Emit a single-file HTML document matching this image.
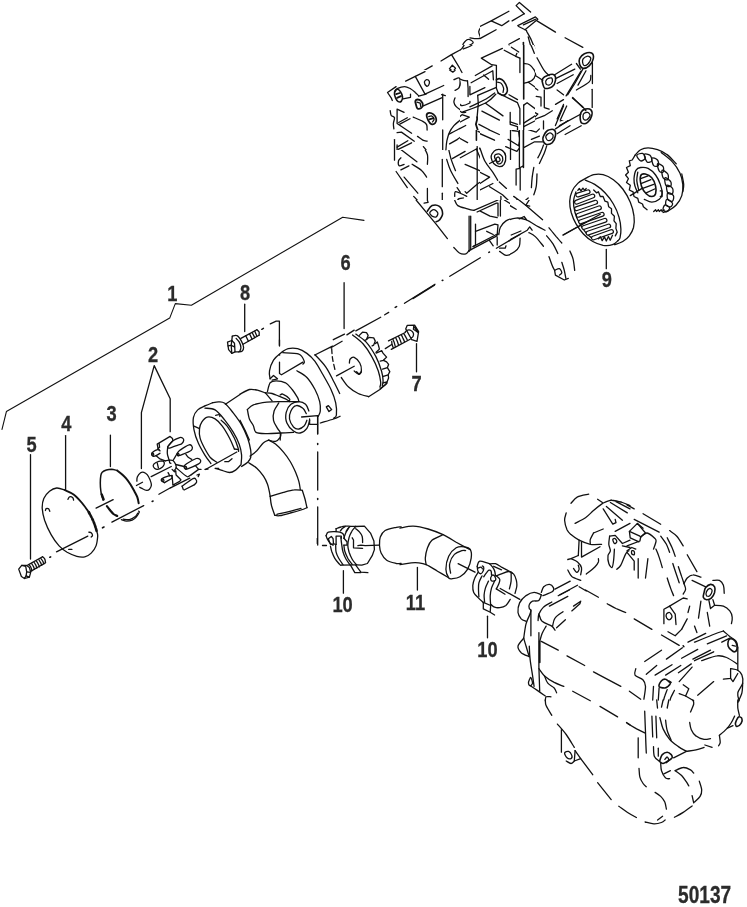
<!DOCTYPE html>
<html><head><meta charset="utf-8"><title>50137</title>
<style>
html,body{margin:0;padding:0;background:#fff;}
svg{display:block;}
text{font-family:"Liberation Sans",sans-serif;font-weight:bold;fill:#2b2b2b;stroke:#2b2b2b;stroke-width:0.3px;text-anchor:middle;}
</style></head><body>
<svg width="747" height="907" viewBox="0 0 747 907">
<rect width="747" height="907" fill="#fff"/>
<defs><clipPath id="c1"><rect x="380" y="0" width="80" height="70"/><rect x="460" y="0" width="20" height="45"/></clipPath><clipPath id="c2"><rect x="480" y="0" width="120" height="45"/><rect x="535" y="45" width="65" height="75"/></clipPath><clipPath id="c3"><rect x="380" y="150" width="100" height="50"/><rect x="460" y="130" width="20" height="20"/></clipPath><clipPath id="c4"><rect x="480" y="130" width="120" height="70"/><rect x="535" y="120" width="65" height="10"/></clipPath><clipPath id="c5"><rect x="400" y="200" width="110" height="120"/></clipPath><clipPath id="c6"><rect x="510" y="200" width="55" height="110"/><rect x="565" y="186" width="55" height="124"/></clipPath><clipPath id="c7"><rect x="380" y="70" width="80" height="80"/></clipPath><clipPath id="c8"><rect x="460" y="45" width="75" height="85"/></clipPath></defs>
<g fill="none" stroke="#111" stroke-width="1.3" stroke-linecap="round" stroke-linejoin="round">
<path d="M2.0 429.4 L6.4 411.6 L169.7 318.1 L175.3 303.6 L191.4 305.3 L342.7 217.2 L364.0 220.4" stroke-width="1.1"/>
<path d="M30.5 454.7 L30.5 559.0"/>
<path d="M65.6 435.6 L65.6 489.5"/>
<path d="M110.4 435.1 L110.4 466.6"/>
<path d="M64.7 490.0 C63.4 489.6 59.2 487.8 56.7 488.0 C54.1 488.2 51.6 489.5 49.5 491.2 C47.3 493.0 45.0 495.7 43.8 498.5 C42.6 501.3 42.1 504.5 42.2 508.1 C42.4 511.7 43.2 515.7 44.6 520.2 C46.1 524.6 48.7 530.3 51.1 534.6 C53.5 538.9 56.4 542.9 59.1 545.9 C61.8 548.8 64.2 550.5 67.1 552.3 C70.1 554.0 73.8 555.6 76.8 556.3 C79.7 557.1 82.4 557.3 84.8 556.8 C87.2 556.3 89.4 554.9 91.2 553.1 C93.1 551.3 95.0 548.7 96.0 545.9 C97.1 543.1 97.5 538.6 97.7 536.2 C97.8 533.8 97.0 532.2 96.8 531.4"/>
<path d="M64.7 490.0 C66.2 490.7 70.7 492.4 73.6 494.5 C76.4 496.5 79.0 499.5 81.6 502.5 C84.1 505.4 87.6 510.5 88.8 512.1" stroke-width="1.9"/>
<path d="M88.8 512.1 C89.6 513.7 92.3 518.6 93.6 521.8 C95.0 525.0 96.3 529.8 96.8 531.4" stroke-dasharray="2.2 1.4" stroke-width="2.6"/>
<path d="M67.9 499.3 C68.2 498.9 68.7 497.1 69.5 496.9 C70.3 496.6 72.1 497.1 72.8 497.7 C73.4 498.2 73.4 499.7 73.6 500.1"/>
<path d="M45.4 510.5 C45.6 510.2 45.7 508.9 46.2 508.6 C46.8 508.3 48.1 508.5 48.7 508.9 C49.2 509.4 49.6 510.9 49.8 511.3"/>
<path d="M88.8 532.2 C89.2 532.3 90.6 532.2 91.2 532.7 C91.8 533.2 92.5 534.7 92.5 535.4 C92.5 536.1 91.4 536.8 91.2 537.0"/>
<path d="M68.7 549.4 L71.9 549.4"/>
<path d="M103.1 500.0 C102.9 499.2 102.1 496.9 101.7 495.3 C101.3 493.7 101.0 492.6 100.8 490.6 C100.5 488.6 100.3 485.6 100.3 483.1 C100.3 480.6 100.5 477.4 100.8 475.6 C101.1 473.8 101.2 473.3 102.2 472.3 C103.1 471.4 104.8 470.5 106.4 470.0 C108.0 469.5 109.8 469.2 111.6 469.2 C113.3 469.3 116.2 470.3 117.2 470.5" stroke-width="1.5"/>
<path d="M117.2 470.5 C118.0 471.1 120.3 472.8 121.9 474.2 C123.4 475.6 125.1 477.1 126.5 478.9 C128.0 480.7 129.4 482.9 130.8 485.0 C132.1 487.1 133.4 489.5 134.5 491.5 C135.6 493.6 136.6 495.2 137.3 497.2 C138.0 499.1 138.5 502.2 138.7 503.3" stroke-width="2.0"/>
<path d="M101.7 494.4 L103.6 499.5" stroke-width="2.4"/>
<path d="M106.9 506.1 C107.4 506.8 109.1 509.0 110.1 510.3 C111.2 511.6 112.3 513.1 113.4 514.0 C114.6 515.0 116.6 515.6 117.2 515.9" stroke-width="2.2"/>
<path d="M121.4 519.7 C122.3 519.9 124.8 521.0 126.5 521.1 C128.3 521.1 130.5 520.8 132.2 520.1 C133.8 519.4 135.2 518.2 136.4 516.8 C137.6 515.5 138.8 513.1 139.2 512.2 C139.6 511.2 138.8 511.4 138.7 511.2"/>
<path d="M123.3 519.2 C124.3 519.3 127.4 520.0 129.4 519.7 C131.3 519.3 133.6 517.9 135.0 516.8 C136.4 515.8 137.3 513.7 137.8 513.1"/>
<path d="M56.5 551.8 L87.8 536.1"/>
<path d="M96.1 508.1 L113.2 499.7"/>
<path d="M111.9 522.1 L143.7 505.6"/>
<path d="M152.1 501.5 L153.1 501.0" stroke-width="1.5"/>
<path d="M18.7 569.1 L21.7 565.4 L25.7 566.4 L26.7 571.8 L26.1 575.8 L24.4 578.5 L21.4 576.5 Z"/>
<path d="M21.7 565.4 L26.7 565.4 L29.4 567.4 L30.7 572.4 L29.4 577.1 L24.7 578.5"/>
<path d="M26.7 571.8 L30.4 572.4"/>
<path d="M26.1 575.8 L29.4 577.1"/>
<path d="M27.7 565.1 L42.5 556.7"/>
<path d="M30.7 571.4 L45.5 562.7"/>
<path d="M42.5 556.7 C42.9 557.1 44.3 558.1 44.8 559.1 C45.3 560.1 45.4 562.1 45.5 562.7"/>
<path d="M29.4 565.1 C29.7 565.5 30.7 566.8 31.1 567.8 C31.5 568.7 31.6 570.3 31.8 570.8"/>
<path d="M31.8 563.7 C32.0 564.2 33.0 565.5 33.4 566.4 C33.9 567.4 34.3 568.9 34.4 569.4"/>
<path d="M34.1 562.4 C34.4 562.8 35.3 564.1 35.8 565.1 C36.2 566.0 36.6 567.6 36.8 568.1"/>
<path d="M36.4 561.1 C36.7 561.5 37.6 562.8 38.1 563.7 C38.6 564.7 39.2 566.3 39.5 566.8"/>
<path d="M38.8 559.7 C39.1 560.2 40.0 561.5 40.5 562.4 C41.0 563.4 41.6 564.9 41.8 565.4"/>
<path d="M40.8 558.4 C41.1 558.8 42.3 560.1 42.8 561.1 C43.3 562.0 43.6 563.6 43.8 564.1"/>
<path d="M49.8 557.2 L50.6 556.9" stroke-width="1.6"/>
<path d="M212.7 402.7 C211.5 403.2 208.0 404.5 205.5 405.7 C203.0 406.9 199.7 407.9 197.7 409.9 C195.6 411.9 194.0 414.4 193.4 417.7 C192.8 421.0 193.2 425.5 194.0 429.8 C194.8 434.0 196.4 438.8 198.3 443.0 C200.1 447.2 202.8 451.6 204.9 455.1 C207.0 458.5 209.9 462.1 210.9 463.5"/>
<path d="M215.1 468.3 C216.1 468.6 218.7 469.4 221.1 470.1 C223.6 470.8 227.2 472.5 229.6 472.5 C232.0 472.5 233.8 471.3 235.6 470.1 C237.4 468.9 239.6 466.1 240.4 465.3"/>
<path d="M212.7 402.7 C213.7 402.5 216.7 401.7 218.7 401.8 C220.7 401.9 222.3 401.4 224.8 403.3 C227.2 405.1 230.4 409.3 233.2 412.9 C236.0 416.5 239.2 420.7 241.6 424.9 C244.0 429.2 246.1 434.0 247.7 438.2 C249.2 442.4 250.2 447.0 250.7 450.2 C251.2 453.5 251.2 455.5 250.7 457.5 C250.2 459.5 249.2 460.8 247.7 462.3 C246.1 463.8 242.6 465.8 241.6 466.5"/>
<path d="M204.9 408.1 C206.6 408.4 211.8 407.9 215.1 409.9 C218.4 411.9 221.7 416.4 224.8 420.1 C227.8 423.8 230.8 428.2 233.2 432.2 C235.6 436.2 237.8 440.4 239.2 444.2 C240.6 448.0 241.3 451.6 241.6 455.1 C241.9 458.5 241.1 463.1 241.0 464.7"/>
<path d="M216.9 462.3 C215.8 461.5 212.4 459.9 210.3 457.5 C208.2 455.1 206.0 451.0 204.3 447.8 C202.6 444.6 200.9 441.4 200.1 438.2 C199.3 435.0 199.2 431.3 199.5 428.6 C199.8 425.8 200.6 423.8 201.9 421.9 C203.2 420.0 205.1 417.6 207.3 417.1 C209.5 416.6 212.6 417.4 215.1 418.9 C217.6 420.4 219.9 422.9 222.3 426.1 C224.8 429.4 227.6 434.4 229.6 438.2 C231.6 442.0 233.6 447.2 234.4 449.0"/>
<path d="M221.1 420.1 C222.1 421.1 225.0 423.1 227.2 426.1 C229.4 429.2 232.6 434.6 234.4 438.2 C236.2 441.8 237.3 445.6 238.0 447.8 C238.7 450.0 238.5 450.8 238.6 451.4"/>
<path d="M194.0 426.1 L199.5 428.6"/>
<path d="M205.5 469.5 L236.8 452.0"/>
<path d="M234.4 449.0 L238.6 449.6"/>
<path d="M215.7 415.3 C216.3 415.2 218.6 414.5 219.3 414.7 C220.0 414.9 219.8 416.2 219.9 416.5"/>
<path d="M224.8 461.7 L228.4 461.7 L232.0 458.7"/>
<path d="M215.7 468.3 L218.7 468.3"/>
<path d="M270.1 378.8 C270.0 377.5 268.9 373.9 269.5 370.8 C270.0 367.7 271.7 363.0 273.5 360.1 C275.3 357.2 277.7 355.3 280.2 353.4 C282.6 351.5 285.3 349.5 288.2 348.7 C291.1 347.9 294.4 347.9 297.6 348.7 C300.7 349.5 304.0 351.3 306.9 353.4 C309.8 355.5 312.3 357.8 315.0 361.4 C317.6 365.0 320.3 370.1 323.0 374.8 C325.7 379.5 328.9 384.8 331.0 389.5 C333.2 394.2 334.8 398.7 335.7 402.9 C336.6 407.2 336.7 412.4 336.4 415.0 C336.1 417.5 334.2 417.8 333.7 418.3"/>
<path d="M315.0 354.7 C316.8 356.7 322.6 362.3 325.7 366.8 C328.8 371.2 331.4 377.0 333.7 381.5 C336.1 386.0 338.7 391.5 339.7 393.5"/>
<path d="M282.8 352.7 C285.5 352.9 295.3 352.6 298.9 354.1 C302.5 355.5 303.6 359.7 304.3 361.4 C304.9 363.1 303.1 363.7 302.9 364.1"/>
<path d="M279.5 362.1 L279.5 373.5 L281.5 374.8 L302.9 362.1"/>
<path d="M279.5 340.0 L279.5 346.0"/>
<path d="M279.4 354.5 L279.6 355.0" stroke-width="1.5"/>
<path d="M296.9 370.8 C298.6 371.9 303.9 374.4 306.9 377.5 C309.9 380.6 312.8 385.5 315.0 389.5 C317.1 393.5 318.8 398.0 319.7 401.6 C320.5 405.1 320.5 408.5 320.3 411.0 C320.1 413.4 318.6 415.4 318.3 416.3"/>
<path d="M270.1 378.8 L273.5 375.5 L277.5 378.8 L272.1 380.2"/>
<path d="M267.4 391.5 C267.9 390.1 268.7 384.6 270.1 382.8 C271.6 381.1 273.6 380.8 276.1 380.8 C278.7 380.8 282.8 381.4 285.5 382.8 C288.2 384.3 290.2 387.1 292.2 389.5 C294.2 392.0 296.4 395.6 297.6 397.6 C298.7 399.6 298.7 400.9 298.9 401.6"/>
<path d="M265.4 392.9 C266.6 393.0 269.9 393.0 272.1 393.5 C274.4 394.1 276.6 395.3 278.8 396.2 C281.1 397.1 283.7 398.0 285.5 398.9 C287.3 399.8 288.9 401.1 289.5 401.6"/>
<path d="M280.2 394.9 C280.6 394.8 281.3 393.5 282.8 394.2 C284.4 394.9 288.5 397.8 289.5 398.9 C290.5 400.0 289.0 400.6 288.9 400.9"/>
<path d="M265.4 392.9 L272.1 400.9"/>
<path d="M247.4 409.6 C248.4 408.8 250.2 406.2 253.4 404.9 C256.6 403.7 262.3 402.8 266.8 402.2 C271.2 401.7 274.8 401.7 280.2 401.6 C285.5 401.5 295.8 401.6 298.9 401.6"/>
<path d="M247.4 409.6 C247.7 411.2 248.4 416.3 249.4 419.0 C250.4 421.7 252.3 423.4 253.4 425.7 C254.5 427.9 253.8 431.0 256.1 432.4 C258.3 433.7 262.8 433.6 266.8 433.7 C270.8 433.8 275.7 433.3 280.2 433.0 C284.6 432.8 291.3 432.5 293.5 432.4"/>
<path d="M278.8 402.9 C278.0 404.3 275.0 408.0 274.1 411.0 C273.2 413.9 272.9 417.4 273.5 420.3 C274.0 423.2 276.4 426.3 277.5 428.4 C278.6 430.4 279.7 430.4 280.2 432.4 C280.6 434.3 280.2 438.7 280.2 440.0"/>
<path d="M308.9 411.0 C308.4 409.8 307.3 405.8 305.6 404.3 C303.9 402.7 301.4 401.6 298.9 401.6 C296.4 401.6 293.0 402.5 290.9 404.3 C288.8 406.0 286.9 409.2 286.2 412.3 C285.5 415.4 285.6 419.9 286.9 423.0 C288.1 426.1 291.3 429.4 293.5 431.0 C295.8 432.7 298.0 433.5 300.2 433.0 C302.5 432.6 305.4 430.5 306.9 428.4 C308.5 426.2 309.2 421.7 309.6 420.3"/>
<path d="M306.3 413.6 C305.7 412.7 304.6 409.6 302.9 408.3 C301.2 406.9 298.2 405.1 296.2 405.6 C294.2 406.0 292.0 408.7 290.9 411.0 C289.8 413.2 289.1 416.3 289.5 419.0 C290.0 421.7 292.0 425.3 293.5 427.0 C295.1 428.7 297.1 429.2 298.9 429.0 C300.7 428.8 302.9 427.1 304.3 425.7 C305.6 424.2 306.5 421.2 306.9 420.3"/>
<path d="M301.6 417.0 L317.6 415.6 L317.6 433.7"/>
<path d="M309.6 419.0 L309.6 424.3 L317.6 424.3"/>
<path d="M240.0 394.2 C241.6 393.4 246.5 390.2 249.4 389.5 C252.3 388.9 254.7 389.6 257.4 390.2 C260.1 390.8 264.1 392.4 265.4 392.9"/>
<path d="M240.0 420.3 C240.9 422.1 243.8 427.8 245.4 431.0 C246.9 434.3 248.7 438.5 249.4 440.0"/>
<path d="M320.3 423.0 C322.6 422.3 330.4 420.1 333.7 419.0 C337.0 417.9 339.0 416.8 340.0 416.3"/>
<path d="M326.3 406.9 L328.4 405.6 L331.7 409.6 L329.0 411.6 Z"/>
<path d="M268.8 440.1 C269.9 440.7 273.1 442.1 275.5 444.1 C278.0 446.1 281.1 449.2 283.5 452.1 C286.0 455.0 288.2 458.2 290.2 461.5 C292.2 464.8 294.1 468.9 295.6 472.2 C297.0 475.6 298.2 478.7 298.9 481.6 C299.7 484.5 300.1 488.3 300.3 489.6"/>
<path d="M248.7 462.8 C250.1 463.7 254.3 466.0 256.8 468.2 C259.2 470.4 261.7 473.5 263.5 476.2 C265.3 478.9 266.5 481.6 267.5 484.3 C268.5 486.9 269.0 490.3 269.5 492.3 C269.9 494.3 270.0 495.6 270.2 496.3"/>
<path d="M250.1 456.1 C251.2 455.3 254.5 453.0 256.8 450.8 C259.0 448.6 261.5 444.5 263.5 442.8 C265.5 441.0 267.9 440.5 268.8 440.1"/>
<path d="M268.8 440.1 C269.9 440.3 273.6 441.9 275.5 441.4 C277.4 441.0 279.3 438.7 280.2 437.4 C281.1 436.1 280.8 434.1 280.9 433.4"/>
<path d="M270.2 496.3 C272.4 495.6 279.5 493.4 283.5 492.3 C287.6 491.2 291.1 490.2 294.3 489.9 C297.4 489.5 301.0 490.2 302.3 490.3"/>
<path d="M270.2 496.3 C270.4 497.9 270.7 502.5 271.5 505.7 C272.3 508.8 274.3 513.7 274.8 515.3"/>
<path d="M302.3 490.3 C302.7 491.7 304.2 496.1 305.0 499.0 C305.7 501.9 306.6 506.2 307.0 507.7"/>
<path d="M274.8 515.3 C275.6 515.4 277.0 516.1 279.5 515.7 C282.1 515.3 286.7 514.0 290.2 513.0 C293.8 512.1 298.2 510.9 301.0 510.0 C303.7 509.1 306.0 508.1 307.0 507.7"/>
<path d="M276.9 514.4 C278.9 513.9 284.9 512.7 288.9 511.7 C292.9 510.7 298.9 508.9 301.0 508.4"/>
<path d="M225.4 404.3 L240.0 394.5"/>
<path d="M102.5 527.8 L104.0 527.0" stroke-width="1.6"/>
<path d="M317.7 416.0 L317.7 434.0"/>
<path d="M317.7 443.5 L317.7 444.5" stroke-width="1.5"/>
<path d="M317.7 452.0 L317.7 490.0"/>
<path d="M317.7 498.5 L317.7 499.5" stroke-width="1.5"/>
<path d="M317.7 507.0 L317.7 545.0"/>
<path d="M168.1 446.1 L172.9 440.8 L172.5 438.4 L170.1 436.4 L157.2 444.1 L158.0 448.5 L159.6 447.3 L159.2 443.7"/>
<path d="M158.0 448.5 L160.0 450.9"/>
<path d="M168.1 446.1 C169.0 445.0 171.0 442.2 172.9 440.8 C174.8 439.4 178.1 438.1 179.7 437.6 C181.3 437.2 181.9 437.6 182.5 438.0 C183.2 438.5 183.9 439.5 183.7 440.4 C183.6 441.4 182.6 442.9 181.7 443.7 C180.9 444.4 180.5 444.1 178.5 444.9 C176.5 445.6 171.5 447.7 169.7 448.1 C167.9 448.5 167.9 447.6 167.7 447.3 C167.4 446.9 167.2 447.1 168.1 446.1 Z"/>
<path d="M167.7 447.3 C167.6 448.3 167.1 451.5 167.3 453.3 C167.4 455.1 168.1 456.9 168.5 458.1 C168.8 459.3 169.2 460.1 169.3 460.5"/>
<path d="M177.3 453.3 C177.7 452.4 178.2 451.5 180.1 450.1 C182.1 448.7 187.0 445.5 189.0 444.9 C190.9 444.2 191.2 445.4 191.8 446.1 C192.3 446.7 192.5 448.0 192.2 448.9 C191.8 449.7 191.8 450.2 189.8 451.3 C187.8 452.4 182.1 454.6 180.1 455.3 C178.1 456.0 178.2 456.0 177.7 455.7 C177.3 455.4 176.9 454.2 177.3 453.3 Z"/>
<ellipse cx="178.3" cy="454.5" rx="0.8" ry="1.2" transform="rotate(-25 178.3 454.5)"/>
<path d="M177.3 453.3 C176.9 454.0 175.6 456.2 174.9 457.3 C174.2 458.4 173.6 459.7 173.3 460.1"/>
<path d="M184.1 466.5 C184.3 465.7 184.5 465.1 186.6 463.7 C188.6 462.4 194.0 459.3 196.2 458.5 C198.4 457.8 199.1 458.8 199.8 459.3 C200.5 459.9 200.9 460.9 200.6 461.7 C200.3 462.5 200.3 463.0 198.2 464.1 C196.1 465.3 190.3 467.8 188.2 468.6 C186.0 469.4 186.0 469.3 185.3 469.0 C184.7 468.6 183.9 467.4 184.1 466.5 Z"/>
<ellipse cx="185.8" cy="467.8" rx="0.9" ry="1.3" transform="rotate(-25 185.8 467.8)"/>
<path d="M185.8 454.1 C186.2 454.6 187.2 456.4 188.2 457.3 C189.2 458.2 191.2 459.0 191.8 459.3"/>
<path d="M159.6 450.5 C159.3 450.3 158.7 449.5 157.6 449.7 C156.6 449.9 154.2 451.0 153.2 451.7 C152.2 452.4 151.7 453.4 151.6 454.1 C151.5 454.8 152.1 455.8 152.8 456.1 C153.6 456.4 154.8 456.2 156.0 455.7 C157.2 455.2 159.4 453.7 160.0 453.3"/>
<ellipse cx="152.8" cy="454.1" rx="0.8" ry="1.3" transform="rotate(-25 152.8 454.1)"/>
<path d="M156.0 455.7 C156.7 456.2 158.5 458.0 160.0 458.9 C161.6 459.8 164.4 460.6 165.3 460.9"/>
<path d="M153.2 465.3 C153.4 464.3 154.6 463.3 156.0 462.5 C157.4 461.8 160.3 461.0 161.7 460.9 C163.0 460.9 163.7 461.5 164.1 462.1 C164.5 462.7 164.3 463.7 164.1 464.5 C163.8 465.3 163.5 466.1 162.5 466.9 C161.4 467.8 158.9 469.1 157.6 469.4 C156.4 469.6 155.6 469.2 154.8 468.6 C154.1 467.9 153.0 466.3 153.2 465.3 Z"/>
<path d="M157.2 462.9 L158.4 467.8"/>
<path d="M165.3 460.9 C165.9 460.8 167.6 460.2 168.9 460.1 C170.2 460.1 171.8 459.8 172.9 460.5 C174.0 461.3 175.2 463.3 175.7 464.5 C176.2 465.7 176.3 466.8 176.1 467.8 C175.9 468.7 174.8 469.8 174.5 470.2"/>
<path d="M169.3 460.5 L169.7 462.9 L170.9 463.3"/>
<path d="M175.7 464.5 L184.1 466.5"/>
<path d="M176.1 467.8 C177.7 469.1 183.7 474.3 185.8 475.8 C187.8 477.3 187.2 476.8 188.2 476.6 C189.1 476.4 190.8 474.9 191.4 474.6"/>
<path d="M191.4 474.6 L198.6 469.4 L195.8 466.1"/>
<path d="M198.6 469.4 L201.0 469.4"/>
<path d="M172.1 475.4 C171.6 475.4 170.4 475.4 168.9 475.8 C167.4 476.2 164.5 477.2 163.3 477.8 C162.0 478.4 161.5 478.8 161.3 479.4 C161.1 480.0 161.5 480.9 162.1 481.4 C162.6 481.9 164.1 482.4 164.5 482.6"/>
<path d="M164.5 482.6 L172.1 478.2 L171.7 475.8"/>
<ellipse cx="162.9" cy="480.2" rx="0.9" ry="1.4" transform="rotate(-25 162.9 480.2)"/>
<path d="M168.1 472.6 L169.7 475.8"/>
<path d="M172.1 469.4 L174.5 471.8 L175.7 471.0"/>
<path d="M172.1 475.8 L172.9 484.6 L174.5 485.0"/>
<path d="M175.7 471.0 L176.1 475.0 L180.9 479.8 L179.7 481.4 L172.9 485.0"/>
<path d="M182.1 486.2 C183.9 485.0 190.7 479.7 193.0 478.6 C195.3 477.5 195.2 478.8 195.8 479.4 C196.4 480.0 196.8 481.3 196.6 482.2 C196.4 483.1 194.9 484.2 194.6 484.6"/>
<path d="M194.6 484.6 L184.1 490.0"/>
<path d="M182.1 486.2 L183.3 489.4"/>
<path d="M151.2 476.6 L171.3 466.5"/>
<path d="M170.5 487.8 L189.8 478.2"/>
<path d="M205.0 469.4 L208.0 469.0"/>
<path d="M197.0 475.0 L199.4 474.2 L198.2 476.6"/>
<path d="M158.9 494.3 L170.5 487.8"/>
<path d="M136.9 481.2 C136.9 480.5 136.7 478.4 137.3 477.0 C137.9 475.6 139.5 473.6 140.6 472.8 C141.7 472.0 142.8 472.0 143.9 472.3 C145.0 472.6 146.1 473.4 147.2 474.7 C148.2 475.9 149.3 478.1 150.0 479.8 C150.7 481.6 151.5 483.4 151.4 485.0 C151.3 486.5 150.3 488.3 149.5 489.2 C148.7 490.1 147.9 490.5 146.7 490.4 C145.5 490.3 143.6 489.3 142.5 488.7 C141.3 488.2 140.1 487.6 139.7 487.3"/>
<path d="M136.4 485.5 L142.5 482.2"/>
<path d="M141.4 468.6 L141.4 412.7 L154.2 365.6 L170.2 398.7 L170.2 431.7"/>
<path d="M244.7 304.2 L244.7 331.5"/>
<path d="M261.8 329.3 L263.4 328.4" stroke-width="1.5"/>
<path d="M270.3 323.9 L276.2 321.2 L279.4 321.2 L279.4 345.3"/>
<path d="M404.5 303.3 L435.0 284.3"/>
<path d="M344.1 282.7 L344.1 328.5"/>
<path d="M333.3 339.7 L344.5 334.1"/>
<path d="M346.9 334.9 L354.2 330.1"/>
<path d="M355.8 330.9 L380.7 317.2"/>
<path d="M384.7 314.8 L388.7 312.4"/>
<path d="M314.8 355.0 L332.5 346.1"/>
<path d="M330.9 347.8 L342.1 341.3"/>
<path d="M331.7 348.6 C331.8 350.2 332.0 354.7 332.5 358.2 C333.0 361.7 334.5 367.6 334.9 369.4" stroke-dasharray="5 3"/>
<path d="M341.3 377.5 C342.5 379.1 345.7 384.4 348.6 387.1 C351.4 389.8 354.8 391.9 358.2 393.5 C361.5 395.1 366.9 396.2 368.6 396.7"/>
<path d="M352.6 334.9 C354.3 336.4 359.8 340.1 363.0 343.7 C366.2 347.3 369.3 352.0 371.8 356.6 C374.4 361.1 376.8 366.8 378.3 371.0 C379.7 375.3 380.4 379.6 380.7 382.3 C381.0 385.0 380.0 386.3 379.9 387.1"/>
<path d="M355.8 334.1 C357.5 335.4 362.9 338.4 366.2 342.1 C369.6 345.9 373.3 351.8 375.9 356.6 C378.4 361.4 380.3 367.0 381.5 371.0 C382.7 375.1 383.0 378.3 383.1 380.7 C383.2 383.1 382.4 384.7 382.3 385.5"/>
<path d="M368.6 396.7 L379.9 389.5 L387.1 383.1"/>
<path d="M359.3 335.4 L362.5 332.2 L366.5 332.6 L368.1 335.4 L366.5 339.5 L364.9 340.3"/>
<path d="M366.5 339.5 L368.9 337.4 L373.7 337.9 L375.3 341.1 L373.7 345.1 L372.1 345.9"/>
<path d="M375.3 343.5 L377.3 341.9 L378.6 345.9 L379.4 349.1 L376.1 352.3"/>
<path d="M376.1 353.1 L381.8 350.7 L383.0 353.1 L386.6 357.1 L383.4 360.3 L380.2 361.1"/>
<path d="M383.4 360.3 L386.6 361.9 L388.6 364.4 L387.4 367.6 L382.6 369.2"/>
<path d="M387.4 367.6 L389.8 371.6 L388.2 374.8 L383.4 376.4"/>
<path d="M388.2 374.8 L388.6 378.0 L387.0 382.0 L383.0 382.8"/>
<path d="M387.0 382.0 L385.8 384.4 L380.2 388.5"/>
<path d="M349.4 363.0 C349.5 362.3 349.4 359.9 350.2 359.0 C351.0 358.1 352.6 356.7 354.2 357.4 C355.8 358.1 358.6 360.9 359.8 363.0 C361.0 365.2 361.5 368.4 361.4 370.2 C361.3 372.1 360.2 374.1 359.0 374.3 C357.8 374.4 355.0 371.6 354.2 371.0"/>
<path d="M356.6 371.8 L359.0 374.3 L361.4 371.8"/>
<path d="M336.5 375.9 L354.2 366.2"/>
<path d="M411.8 339.7 L405.7 328.9 L407.3 325.3 L414.6 325.1 L418.6 331.7 L417.0 341.3 L411.8 339.7"/>
<path d="M413.8 325.7 L413.4 329.3 L417.8 332.1"/>
<path d="M414.8 327.3 L417.6 331.7" stroke-width="1.8"/>
<path d="M405.3 331.7 C405.7 331.4 406.8 330.3 407.8 330.1 C408.7 329.9 410.0 329.9 411.0 330.5 C411.9 331.0 413.0 332.3 413.4 333.3 C413.7 334.3 413.4 335.7 413.0 336.5 C412.6 337.3 411.3 337.8 411.0 338.1"/>
<path d="M388.5 340.9 L405.3 332.5"/>
<path d="M391.3 349.4 L410.2 339.3"/>
<path d="M392.9 339.3 C393.1 339.8 393.7 340.9 394.1 342.1 C394.5 343.3 395.1 345.8 395.3 346.5"/>
<path d="M395.7 337.7 C396.0 338.3 396.8 340.1 397.3 341.3 C397.8 342.5 398.3 344.3 398.5 344.9"/>
<path d="M398.5 336.5 C398.8 337.0 399.7 338.6 400.1 339.7 C400.6 340.9 401.1 342.7 401.3 343.3"/>
<path d="M401.3 334.9 C401.6 335.4 402.4 337.0 402.9 338.1 C403.5 339.3 404.3 341.1 404.5 341.7"/>
<path d="M403.7 333.7 C404.1 334.2 405.1 335.8 405.7 336.9 C406.3 338.0 407.1 339.6 407.3 340.1"/>
<path d="M391.7 341.3 C391.8 341.9 391.8 343.5 392.1 344.5 C392.4 345.6 393.1 347.2 393.3 347.8"/>
<path d="M385.3 348.6 L391.7 344.5"/>
<path d="M416.5 343.7 L416.5 371.8"/>
<path d="M227.5 342.1 L231.8 340.5 L234.5 343.2 L235.0 351.8 L231.8 353.4 L228.6 349.6 Z"/>
<path d="M231.8 340.5 L231.2 345.3 L234.5 346.9"/>
<path d="M228.0 345.9 L231.2 345.3"/>
<path d="M231.2 345.3 L231.8 353.4"/>
<path d="M232.3 336.2 C233.1 336.1 235.6 334.9 237.1 335.7 C238.7 336.5 240.3 339.1 241.4 341.1 C242.5 343.0 243.5 345.8 243.6 347.5 C243.7 349.2 242.8 350.5 242.0 351.2 C241.2 351.9 239.3 351.7 238.7 351.8"/>
<path d="M236.1 338.4 C236.6 339.0 238.5 340.6 239.3 342.1 C240.1 343.6 240.8 346.0 240.9 347.5 C241.0 349.0 240.0 350.6 239.8 351.2"/>
<path d="M232.3 336.2 L231.8 340.5"/>
<path d="M235.0 351.8 L238.7 351.8"/>
<path d="M240.9 338.4 L256.9 329.8"/>
<path d="M243.0 344.3 L259.1 335.2"/>
<path d="M256.9 329.8 C257.3 330.2 258.7 331.1 259.1 332.0 C259.4 332.8 259.1 334.6 259.1 335.2"/>
<path d="M245.7 335.7 L248.4 341.1"/>
<path d="M249.5 333.8 L252.1 339.1"/>
<path d="M252.1 332.5 L254.8 337.6"/>
<path d="M254.8 331.2 L256.9 336.2"/>
<g clip-path="url(#c1)">
<path d="M396.1 87.6 L387.2 92.4 L392.0 100.4"/>
<path d="M404.9 81.1 L432.2 65.9"/>
<path d="M415.3 77.9 L422.6 94.0"/>
<path d="M441.0 61.0 L451.5 54.6 L461.9 49.0"/>
<path d="M451.5 54.6 L462.7 73.1"/>
<path d="M461.1 48.2 C461.3 48.3 461.5 49.8 461.9 49.0 C462.3 48.2 462.5 45.0 463.5 43.4 C464.6 41.8 466.7 39.5 468.4 39.4 C470.0 39.2 473.4 41.4 473.2 42.6 C472.9 43.8 468.8 45.6 466.7 46.6 C464.7 47.5 462.1 47.9 461.1 48.2"/>
<path d="M470.0 37.8 C471.0 37.9 474.6 38.6 476.4 38.6 C478.1 38.6 480.0 39.0 480.4 37.8 C480.8 36.5 478.3 33.5 478.8 31.3 C479.3 29.2 481.6 26.5 483.6 24.9 C485.6 23.3 488.2 23.2 490.8 21.7 C493.5 20.2 498.2 17.0 499.7 16.1"/>
<path d="M480.4 38.6 L498.1 28.9"/>
<path d="M452.3 65.1 L455.5 68.3 L453.1 71.5 L449.4 68.8 Z"/>
<path d="M426.6 80.3 C427.4 80.3 429.3 82.5 429.5 83.5 C429.7 84.6 428.7 86.7 427.9 86.7 C427.1 86.7 424.9 84.6 424.7 83.5 C424.4 82.5 425.8 80.3 426.6 80.3 Z"/>
<path d="M422.6 94.0 L442.7 85.1 L444.3 85.1"/>
<path d="M500.0 49.8 L481.2 58.6 L492.4 65.1 L495.7 65.9 L495.7 75.5"/>
<path d="M474.8 75.5 L492.4 66.7"/>
<path d="M473.2 80.3 L490.8 72.3 L494.1 70.7 L494.1 78.7"/>
<path d="M482.8 75.5 L489.2 80.3"/>
<path d="M469.2 86.7 L470.8 94.8 L492.4 85.1 L499.7 90.0"/>
<path d="M452.3 79.5 C453.1 79.4 455.8 78.0 457.1 78.7 C458.4 79.4 460.1 81.9 460.3 83.5 C460.6 85.1 459.7 87.3 458.7 88.4 C457.8 89.4 455.4 89.7 454.7 90.0"/>
<path d="M458.7 77.1 C459.5 77.6 462.1 79.7 463.5 80.3 C465.0 81.0 466.9 81.0 467.6 81.1"/>
<path d="M467.6 81.1 C467.7 82.6 468.4 87.1 468.4 90.0 C468.4 92.8 467.7 96.7 467.6 98.0"/>
<path d="M455.5 98.0 C455.4 99.1 453.9 102.5 454.7 104.4 C455.5 106.3 458.3 108.2 460.3 109.2 C462.3 110.3 464.1 111.4 466.7 110.8 C469.4 110.3 473.2 107.4 476.4 106.0 C479.6 104.7 484.4 103.3 486.0 102.8"/>
<path d="M458.7 102.8 C459.5 103.1 461.7 104.8 463.5 104.4 C465.4 104.0 467.6 101.7 470.0 100.4 C472.4 99.1 474.2 98.1 478.0 96.4 C481.7 94.6 490.0 91.0 492.4 90.0"/>
<path d="M394.5 92.4 C394.7 90.9 396.5 89.8 397.7 90.0 C398.9 90.1 400.9 91.7 401.7 93.2 C402.5 94.6 402.9 97.3 402.5 98.8 C402.1 100.3 400.3 102.0 399.3 102.0 C398.2 102.0 396.9 100.4 396.1 98.8 C395.3 97.2 394.2 93.8 394.5 92.4 Z"/>
<path d="M397.7 90.0 C398.7 89.4 402.1 86.7 404.1 86.7 C406.1 86.7 408.8 88.4 409.7 90.0 C410.7 91.6 410.9 94.8 409.7 96.4 C408.5 98.0 403.7 99.1 402.5 99.6"/>
<path d="M395.3 94.8 L400.1 96.4"/>
<path d="M416.1 100.4 C416.7 99.2 419.1 98.9 420.2 99.6 C421.2 100.3 422.4 103.1 422.6 104.4 C422.7 105.8 421.9 107.2 421.0 107.6 C420.0 108.0 417.8 108.0 416.9 106.8 C416.1 105.6 415.6 101.6 416.1 100.4 Z"/>
<path d="M423.4 106.0 L442.7 97.2"/>
<path d="M442.7 94.8 L442.7 120.0"/>
<path d="M404.1 112.4 L396.1 110.8 L396.1 120.0"/>
<path d="M389.6 110.8 L392.0 117.3"/>
<path d="M426.6 114.9 C427.4 114.7 429.9 113.4 431.4 114.1 C432.9 114.7 434.8 118.1 435.4 118.9"/>
<path d="M478.0 102.8 L478.0 120.0"/>
<path d="M486.0 102.8 L500.0 112.4"/>
<path d="M482.8 109.2 L495.7 120.0"/>
</g>
<g clip-path="url(#c2)">
<path d="M524.2 13.7 L516.1 5.6 L519.4 2.4 L530.6 12.0"/>
<path d="M524.2 13.7 L512.1 20.9"/>
<path d="M480.0 26.5 L491.2 20.9 L508.9 11.2"/>
<path d="M491.2 20.9 L501.7 25.7 L508.9 20.9"/>
<path d="M480.0 38.6 L496.1 29.7"/>
<path d="M517.8 25.7 L535.4 16.9 L537.8 19.3 L525.0 29.7"/>
<path d="M523.4 24.9 L535.4 19.3"/>
<path d="M518.6 26.5 L526.6 30.5"/>
<path d="M537.0 20.9 L555.5 32.1"/>
<path d="M565.1 37.8 L582.8 47.4"/>
<path d="M526.6 31.3 C527.4 32.8 530.1 37.3 531.4 40.2 C532.7 43.0 534.1 46.9 534.6 48.2"/>
<path d="M528.2 36.9 C528.7 38.8 530.5 45.4 531.4 48.2 C532.3 51.0 533.4 52.9 533.8 53.8"/>
<path d="M508.9 44.2 L519.4 38.6"/>
<path d="M500.9 49.0 L481.6 58.6"/>
<path d="M504.1 50.6 L514.5 56.2"/>
<path d="M510.5 46.6 L518.6 51.4"/>
<path d="M523.4 42.6 L523.4 99.6" stroke-width="1.6"/>
<path d="M519.4 56.2 L519.4 71.5"/>
<path d="M523.4 63.5 C524.4 63.7 527.9 63.6 529.8 65.1 C531.7 66.5 533.7 70.5 534.6 72.3 C535.6 74.0 536.2 73.9 535.4 75.5 C534.6 77.1 531.8 80.6 529.8 81.9 C527.8 83.3 524.4 83.3 523.4 83.5"/>
<path d="M535.4 75.5 L542.7 80.3"/>
<path d="M537.0 57.8 C538.2 60.0 542.2 67.7 544.3 70.7 C546.3 73.6 548.3 74.7 549.1 75.5"/>
<path d="M542.7 78.7 C543.5 77.4 545.6 76.2 547.5 75.5 C549.3 74.8 552.6 73.9 553.9 74.7 C555.2 75.5 555.8 78.3 555.5 80.3 C555.2 82.3 554.0 85.4 552.3 86.7 C550.5 88.1 546.7 88.9 545.1 88.4 C543.5 87.8 543.1 85.1 542.7 83.5 C542.2 81.9 541.8 80.1 542.7 78.7 Z" stroke-width="1.6"/>
<path d="M546.7 79.5 C547.6 78.6 550.5 77.5 551.5 77.9 C552.4 78.3 552.7 80.7 552.3 81.9 C551.9 83.1 550.1 84.9 549.1 85.1 C548.0 85.4 546.3 84.5 545.9 83.5 C545.5 82.6 545.7 80.5 546.7 79.5 Z"/>
<path d="M579.6 58.6 C580.4 56.9 582.4 54.8 584.4 53.8 C586.4 52.9 590.2 52.2 591.6 53.0 C593.1 53.8 593.7 56.5 593.3 58.6 C592.9 60.8 591.0 64.3 589.2 65.9 C587.5 67.5 584.4 68.5 582.8 68.3 C581.2 68.0 580.1 65.9 579.6 64.3 C579.1 62.7 578.8 60.4 579.6 58.6 Z" stroke-width="1.6"/>
<path d="M582.8 59.4 C583.5 58.0 586.3 56.4 587.6 56.2 C589.0 56.1 590.8 57.3 590.8 58.6 C590.8 60.0 588.8 63.2 587.6 64.3 C586.4 65.3 584.4 65.9 583.6 65.1 C582.8 64.3 582.1 60.9 582.8 59.4 Z"/>
<path d="M554.7 74.7 L571.6 64.3"/>
<path d="M555.5 78.7 L574.8 69.1"/>
<path d="M557.1 83.5 L573.2 74.7"/>
<path d="M576.4 63.5 L580.4 69.1"/>
<path d="M582.8 69.1 L574.8 83.5 L567.6 94.8"/>
<path d="M563.5 94.8 L557.1 90.0"/>
<path d="M586.0 70.7 L578.0 85.1"/>
<path d="M563.5 99.6 L555.5 104.4"/>
<path d="M572.4 98.0 L582.8 106.8 L586.0 110.8"/>
<path d="M576.4 90.0 C578.5 88.6 586.8 84.3 589.2 81.9 C591.6 79.5 590.6 76.6 590.8 75.5"/>
<path d="M592.4 62.7 L592.4 83.5"/>
<path d="M544.3 90.0 L544.3 107.6 L549.1 109.2"/>
<path d="M536.2 96.4 L541.0 97.2 L541.0 106.0"/>
<path d="M529.8 84.3 L537.8 90.0"/>
<path d="M523.4 96.4 L528.2 99.6"/>
<path d="M563.5 104.4 L557.1 118.9"/>
<path d="M566.7 106.0 L560.3 120.0"/>
<path d="M481.6 58.6 L486.4 61.0 L496.1 65.9 L496.1 77.1"/>
<path d="M480.0 70.7 L492.9 65.9"/>
<path d="M480.0 75.5 L491.2 70.7 L492.9 75.5 L492.9 80.3"/>
<path d="M484.0 75.5 L488.0 79.5"/>
<path d="M496.9 80.3 C497.8 80.3 500.9 78.7 502.5 80.3 C504.1 81.9 506.2 87.3 506.5 90.0 C506.8 92.6 505.3 95.6 504.1 96.4 C502.9 97.2 500.1 95.0 499.3 94.8"/>
<path d="M496.1 83.5 C496.9 84.1 500.1 85.1 500.9 86.7 C501.7 88.4 500.9 92.1 500.9 93.2"/>
<path d="M480.0 94.8 L496.1 87.6"/>
<path d="M480.0 102.8 L486.4 99.6 L497.7 94.8"/>
<path d="M481.6 106.0 L502.5 117.3"/>
<path d="M504.1 94.8 L518.6 102.0"/>
<path d="M519.4 102.8 L519.4 120.0"/>
<path d="M509.7 112.4 L509.7 120.0"/>
<path d="M523.4 104.4 L528.2 102.8"/>
<path d="M528.2 109.2 L537.8 114.1 L533.0 118.9"/>
<path d="M533.0 120.0 L544.3 115.7 L552.3 110.8"/>
</g>
<g clip-path="url(#c3)">
<path d="M392.0 120.1 L393.7 129.7"/>
<path d="M394.5 139.4 L394.5 160.2"/>
<path d="M396.1 171.5 L407.3 187.6"/>
<path d="M404.1 177.1 L417.8 193.2"/>
<path d="M413.7 196.4 L427.4 210.8"/>
<path d="M404.1 112.9 L396.9 110.4 L396.9 124.1 L412.1 132.9"/>
<path d="M400.9 122.5 L410.5 118.5"/>
<path d="M414.5 117.7 C416.0 118.5 421.2 120.5 423.4 122.5 C425.5 124.5 426.7 128.5 427.4 129.7"/>
<path d="M397.7 132.1 L414.5 141.8"/>
<path d="M416.9 136.9 L426.6 141.8"/>
<path d="M410.5 140.2 L396.9 146.6 L416.9 161.8"/>
<path d="M400.9 148.2 L412.1 142.6"/>
<path d="M423.4 146.6 C424.0 147.9 426.7 151.7 427.4 154.6 C428.1 157.6 427.4 162.7 427.4 164.3"/>
<path d="M400.9 157.8 C400.5 158.4 398.7 159.7 398.5 161.0 C398.2 162.4 398.3 165.3 399.3 165.9 C400.2 166.4 403.3 164.5 404.1 164.3"/>
<path d="M400.9 169.9 L408.9 165.9"/>
<path d="M412.1 164.3 C413.7 165.3 419.4 168.5 421.8 170.7 C424.2 172.8 425.8 176.0 426.6 177.1"/>
<path d="M427.4 188.4 L427.4 201.2 L423.4 202.8"/>
<path d="M427.4 115.3 C427.9 114.3 430.1 113.3 431.4 113.7 C432.7 114.1 434.9 116.2 435.4 117.7 C436.0 119.1 435.4 121.6 434.6 122.5 C433.8 123.4 431.7 123.8 430.6 123.3 C429.5 122.8 428.7 120.6 428.2 119.3 C427.7 117.9 426.9 116.2 427.4 115.3 Z" stroke-width="1.6"/>
<path d="M429.8 116.9 L433.8 120.1"/>
<path d="M442.3 120.9 L442.3 148.2"/>
<path d="M442.3 159.4 L442.3 186.7"/>
<path d="M442.3 193.2 L442.3 220.0"/>
<path d="M470.0 115.3 C468.4 115.9 463.5 117.1 460.3 119.3 C457.1 121.4 453.0 124.9 450.7 128.1 C448.4 131.3 447.5 134.9 446.7 138.6 C445.9 142.2 446.0 147.9 445.9 149.8"/>
<path d="M446.7 159.4 C447.3 161.3 448.8 166.7 450.7 170.7 C452.6 174.7 456.7 181.4 457.9 183.5"/>
<path d="M449.1 132.1 C448.9 134.3 448.0 140.7 448.3 145.0 C448.5 149.3 449.5 153.5 450.7 157.8 C451.9 162.1 454.7 168.5 455.5 170.7"/>
<path d="M455.5 124.9 L466.7 118.5"/>
<path d="M450.7 132.9 L465.1 125.7"/>
<path d="M450.7 143.4 L458.7 137.8 L467.6 142.6"/>
<path d="M452.3 158.6 L465.1 151.4"/>
<path d="M460.3 157.8 L476.4 149.0"/>
<path d="M477.2 106.4 L477.2 119.3"/>
<path d="M476.4 120.9 L476.4 140.2" stroke-width="1.6"/>
<path d="M477.2 146.6 L477.2 199.6"/>
<path d="M465.1 164.3 L490.8 175.5 L478.0 183.5 L466.7 193.2 L465.1 191.6"/>
<path d="M476.4 149.0 L482.8 164.3 L490.8 175.5"/>
<path d="M479.6 148.2 C481.7 152.5 489.0 166.9 492.4 173.9 C495.9 180.9 498.7 187.3 500.0 190.0"/>
<path d="M479.6 124.1 L500.0 133.7"/>
<path d="M478.0 131.3 L495.7 140.2"/>
<path d="M482.8 111.2 L500.0 119.3"/>
<path d="M486.0 104.8 L500.0 112.9"/>
<path d="M457.1 187.6 L460.3 192.4"/>
<path d="M454.7 196.4 C454.8 195.6 454.3 192.0 455.5 191.6 C456.7 191.2 460.1 193.2 461.9 194.0 C463.8 194.8 465.9 196.0 466.7 196.4"/>
<path d="M458.7 207.6 C458.6 206.3 457.1 201.2 457.9 199.6 C458.7 198.0 462.6 198.3 463.5 198.0"/>
<path d="M460.3 202.8 C461.4 203.9 464.1 208.7 466.7 209.2 C469.4 209.8 472.4 207.5 476.4 206.0 C480.4 204.6 488.4 201.3 490.8 200.4"/>
<path d="M470.0 210.8 L482.8 205.2 L495.7 200.4"/>
<path d="M437.8 220.0 C438.5 219.0 441.6 216.3 441.8 214.1 C442.1 211.9 440.9 208.3 439.4 206.8 C438.0 205.4 434.9 204.6 433.0 205.2 C431.1 205.9 429.0 209.9 428.2 210.8" stroke-width="1.6"/>
<path d="M430.6 212.4 C431.0 211.1 433.4 209.2 434.6 209.2 C435.8 209.2 437.6 211.0 437.8 212.4 C438.1 213.9 437.2 217.3 436.2 218.1 C435.3 218.9 433.1 218.2 432.2 217.3 C431.3 216.3 430.2 213.8 430.6 212.4 Z"/>
<path d="M492.4 153.0 L500.0 149.0"/>
<path d="M491.6 154.6 C491.8 155.4 491.1 157.8 492.4 159.4 C493.8 161.0 498.7 163.5 500.0 164.3"/>
<path d="M495.7 156.2 L500.0 154.6"/>
<path d="M484.4 188.4 L500.0 196.4"/>
<path d="M489.2 186.7 L500.0 193.2"/>
</g>
<g clip-path="url(#c4)">
<path d="M483.2 109.6 L502.5 117.7"/>
<path d="M480.0 116.1 L499.3 124.1"/>
<path d="M480.0 125.7 L499.3 134.5"/>
<path d="M480.0 133.7 L494.5 140.2"/>
<path d="M510.5 112.9 L510.5 159.4"/>
<path d="M519.4 120.9 L519.4 167.5"/>
<path d="M523.4 120.9 L523.4 167.5" stroke-width="1.6"/>
<path d="M511.3 121.7 L517.8 122.5 L518.6 128.1 L512.1 127.3"/>
<path d="M512.1 130.5 L518.6 131.3 L519.4 136.9"/>
<path d="M508.1 139.4 L518.6 145.8 L519.4 141.8"/>
<path d="M505.7 146.6 L516.9 151.4 L519.4 148.2"/>
<path d="M525.0 124.1 L539.4 117.7"/>
<path d="M528.2 129.7 L536.2 132.1 L539.4 128.9"/>
<path d="M531.4 139.4 L539.4 136.1"/>
<path d="M524.2 147.4 L534.6 141.8 L542.7 141.8"/>
<path d="M543.5 120.9 L543.5 128.9"/>
<path d="M543.5 136.1 C544.2 134.5 545.7 131.6 547.5 130.5 C549.2 129.5 552.6 128.9 553.9 129.7 C555.2 130.5 555.8 133.2 555.5 135.3 C555.2 137.5 553.9 141.1 552.3 142.6 C550.7 144.0 547.4 144.6 545.9 144.2 C544.3 143.8 543.4 141.5 543.0 140.2 C542.6 138.8 542.7 137.8 543.5 136.1 Z" stroke-width="1.6"/>
<path d="M545.9 136.1 C546.3 134.9 548.7 133.1 549.9 132.9 C551.1 132.8 552.8 134.3 553.1 135.3 C553.4 136.4 552.4 138.6 551.5 139.4 C550.5 140.2 548.4 140.7 547.5 140.2 C546.5 139.6 545.5 137.3 545.9 136.1 Z"/>
<path d="M555.5 128.9 L579.6 112.9"/>
<path d="M557.1 133.7 L570.0 125.7"/>
<path d="M560.3 120.9 L574.8 114.5"/>
<path d="M565.1 134.5 L581.2 125.7"/>
<path d="M543.5 145.0 C543.1 146.1 542.0 149.3 541.0 151.4 C540.1 153.5 538.4 156.8 537.8 157.8"/>
<path d="M546.7 145.8 C546.3 147.0 545.5 150.1 544.3 153.0 C543.1 156.0 540.2 161.7 539.4 163.5"/>
<path d="M533.8 167.5 C533.5 169.1 532.6 173.8 532.2 177.1 C531.8 180.5 531.5 185.8 531.4 187.6"/>
<path d="M537.0 173.9 C536.9 176.0 536.8 183.3 536.2 186.7 C535.7 190.2 534.2 193.4 533.8 194.8"/>
<path d="M516.1 185.1 L516.1 169.1 L520.2 168.3 L520.2 190.0"/>
<path d="M523.4 165.9 L520.2 167.5"/>
<path d="M492.0 153.8 C492.9 152.5 494.3 150.3 496.1 149.8 C497.8 149.3 500.9 149.5 502.5 150.6 C504.1 151.7 505.4 153.9 505.7 156.2 C506.0 158.5 505.2 162.5 504.1 164.3 C503.0 166.0 501.0 166.8 499.3 166.7 C497.5 166.5 495.0 164.9 493.7 163.5 C492.3 162.0 491.5 159.4 491.2 157.8 C491.0 156.2 491.2 155.2 492.0 153.8 Z"/>
<path d="M494.5 156.2 C494.6 154.6 497.1 153.7 498.5 153.8 C499.8 153.9 502.0 155.6 502.5 157.0 C503.0 158.5 502.5 161.6 501.7 162.7 C500.9 163.7 498.9 164.5 497.7 163.5 C496.5 162.4 494.3 157.8 494.5 156.2 Z"/>
<path d="M496.1 158.6 C496.2 157.8 497.8 156.8 498.5 157.0 C499.1 157.3 500.2 159.4 500.1 160.2 C499.9 161.0 498.3 162.1 497.7 161.8 C497.0 161.6 495.9 159.4 496.1 158.6 Z"/>
<path d="M489.6 163.5 L496.1 160.2"/>
<path d="M480.0 148.2 C480.8 150.3 482.7 157.0 484.8 161.0 C487.0 165.1 490.7 169.1 492.9 172.3 C495.0 175.5 496.9 179.0 497.7 180.3"/>
<path d="M499.3 181.9 L506.5 188.4"/>
<path d="M480.0 172.3 L489.6 177.1 L480.0 183.5"/>
<path d="M480.0 190.0 L492.9 183.5"/>
<path d="M489.6 186.7 L502.5 194.8 L517.8 209.2"/>
<path d="M500.9 196.4 L500.9 215.7"/>
<path d="M480.0 207.6 L492.9 201.2 L497.7 202.8 L496.9 215.7"/>
<path d="M513.7 196.4 L522.6 202.8 L528.2 198.0"/>
<path d="M524.2 202.8 L528.2 206.0"/>
<path d="M516.9 199.6 L539.4 218.9"/>
<path d="M507.3 220.0 C508.9 219.5 513.7 217.5 516.9 217.3 C520.2 217.1 525.0 218.6 526.6 218.9"/>
</g>
<g clip-path="url(#c5)">
<path d="M412.9 298.6 L434.5 285.1"/>
<path d="M442.2 280.5 L442.9 280.2" stroke-width="1.5"/>
<path d="M449.8 276.3 L480.3 257.8"/>
<path d="M488.8 252.4 L489.5 252.0" stroke-width="1.5"/>
<path d="M496.4 248.2 L520.0 234.5"/>
<path d="M416.1 200.0 L436.1 224.1 L447.4 238.6"/>
<path d="M453.8 247.4 C454.8 248.3 457.4 251.9 459.4 253.0 C461.4 254.1 464.3 254.2 465.9 253.8 C467.5 253.4 468.5 251.1 469.1 250.6"/>
<path d="M427.3 211.2 C428.1 210.3 430.1 206.4 432.1 205.6 C434.1 204.8 437.6 205.1 439.4 206.4 C441.1 207.8 442.6 211.4 442.6 213.7 C442.6 215.9 440.4 218.7 439.4 220.1 C438.3 221.4 436.7 221.4 436.1 221.7" stroke-width="1.6"/>
<path d="M429.7 212.9 C430.0 211.8 432.4 209.6 433.7 209.6 C435.1 209.6 437.3 211.6 437.8 212.9 C438.2 214.1 437.1 216.3 436.1 216.9 C435.2 217.4 433.2 216.7 432.1 216.1 C431.1 215.4 429.5 213.9 429.7 212.9 Z"/>
<path d="M424.1 203.2 L428.1 202.4 L427.3 200.0"/>
<path d="M469.1 216.1 L469.1 251.4"/>
<path d="M470.7 216.1 L470.7 249.8"/>
<path d="M469.1 250.6 L496.4 236.1 L498.0 233.7"/>
<path d="M473.1 246.6 L496.4 234.5"/>
<path d="M475.5 224.1 L475.5 245.0 L473.1 246.6"/>
<path d="M475.5 231.3 L494.8 224.1 L498.0 224.9 L497.2 234.5"/>
<path d="M486.7 231.3 L493.2 234.5"/>
<path d="M489.2 240.2 L493.2 245.8"/>
<path d="M454.6 200.0 C455.2 200.9 455.7 204.1 457.8 205.6 C460.0 207.1 464.8 208.0 467.5 208.8 C470.1 209.6 472.8 210.2 473.9 210.4"/>
<path d="M473.9 210.4 L498.0 200.0"/>
<path d="M477.1 212.0 L496.4 203.2 L498.0 203.2 L498.0 216.1"/>
<path d="M480.3 211.2 L490.0 216.1 L497.2 217.7"/>
<path d="M500.4 200.0 L500.4 216.1"/>
<path d="M504.4 200.0 L520.0 209.6"/>
<path d="M498.8 234.5 C499.1 233.3 499.2 229.6 500.4 227.3 C501.6 225.0 503.7 222.4 506.0 220.9 C508.3 219.4 511.7 218.7 514.1 218.5 C516.4 218.2 519.0 219.1 520.0 219.3"/>
<path d="M497.2 236.9 L497.2 245.0"/>
<path d="M520.0 232.1 C518.7 232.8 514.0 234.5 512.4 236.1 C510.9 237.8 510.8 240.0 510.8 241.8 C510.8 243.5 511.6 245.5 512.4 246.6 C513.3 247.7 515.1 247.9 515.7 248.2"/>
<path d="M499.6 251.4 C500.7 252.1 503.9 255.2 506.0 255.4 C508.2 255.7 510.1 254.8 512.4 253.0 C514.8 251.3 518.7 246.3 520.0 245.0"/>
<path d="M499.6 248.2 L505.2 248.2 L506.0 245.8"/>
</g>
<g clip-path="url(#c6)">
<path d="M606.3 249.4 L606.3 268.7"/>
<path d="M563.5 235.0 L596.4 216.5"/>
<path d="M514.5 196.4 L525.7 205.3 L542.6 219.7"/>
<path d="M525.7 205.3 L530.5 198.0 L534.5 197.2 L535.3 190.0"/>
<path d="M526.5 205.3 L529.7 206.1"/>
<path d="M500.0 199.6 L516.1 209.3"/>
<path d="M500.0 227.8 C501.1 226.7 503.7 222.9 506.4 221.3 C509.1 219.7 512.9 218.4 516.1 218.1 C519.3 217.8 522.0 218.2 525.7 219.7 C529.5 221.2 535.3 225.2 538.6 226.9 C541.8 228.7 543.9 229.6 545.0 230.2"/>
<path d="M519.3 218.9 L524.1 216.5 L526.5 219.7"/>
<path d="M500.0 245.4 L527.3 230.2 L529.7 226.9 L532.1 230.2"/>
<path d="M511.2 235.0 L520.9 231.0"/>
<path d="M528.9 232.6 C530.0 233.2 532.9 234.3 535.3 236.6 C537.8 238.9 542.0 244.6 543.4 246.2"/>
<path d="M520.1 238.2 C519.9 239.5 520.2 243.9 519.3 246.2 C518.3 248.5 516.6 250.4 514.5 251.8 C512.3 253.3 508.8 254.9 506.4 255.1 C504.0 255.2 501.1 253.1 500.0 252.7"/>
<path d="M501.6 248.6 L507.2 249.4 L507.2 245.4"/>
<path d="M549.0 227.8 C550.2 229.2 554.1 234.0 556.2 236.6 C558.4 239.1 560.9 241.9 561.8 243.0"/>
<path d="M546.6 235.8 C547.7 237.1 551.1 240.9 553.0 243.8 C554.9 246.8 557.0 251.8 557.8 253.5"/>
<path d="M569.9 251.0 C570.4 252.4 572.3 255.9 573.1 259.1 C573.9 262.3 574.4 268.4 574.7 270.3"/>
<path d="M549.0 256.7 C549.5 258.1 551.3 263.2 552.2 265.5 C553.1 267.8 554.2 269.5 554.6 270.3"/>
<path d="M561.8 262.3 C562.2 263.6 563.6 267.6 564.3 270.3 C564.9 273.0 565.6 277.0 565.9 278.4"/>
<path d="M554.6 270.3 L555.4 275.1 L564.3 280.0 L568.3 278.4"/>
<path d="M554.6 270.3 C555.4 270.1 558.2 268.3 559.4 268.7 C560.6 269.1 561.8 271.7 561.8 272.7 C561.8 273.8 559.8 274.7 559.4 275.1"/>
</g>
<path d="M618.1 240.6 C617.2 241.3 615.0 243.9 612.5 244.7 C610.0 245.5 606.4 245.8 603.1 245.3 C599.8 244.7 596.1 243.4 592.8 241.5 C589.5 239.6 586.2 237.0 583.4 234.0 C580.6 231.0 578.0 227.3 575.9 223.7 C573.9 220.1 572.3 216.2 571.2 212.5 C570.2 208.7 569.6 204.8 569.7 201.2 C569.9 197.6 570.8 193.9 572.2 190.9 C573.5 187.9 575.8 185.4 577.8 183.4 C579.8 181.4 581.7 180.6 584.4 179.1 C587.0 177.6 590.6 175.4 593.7 174.6 C596.9 173.9 599.8 173.8 603.1 174.6 C606.4 175.4 610.1 177.3 613.4 179.7 C616.7 182.1 620.0 185.3 622.8 189.0 C625.6 192.8 628.4 197.6 630.3 202.2 C632.2 206.7 633.5 212.0 634.0 216.2 C634.6 220.4 634.2 224.2 633.5 227.5 C632.7 230.7 631.1 233.5 629.3 235.9 C627.6 238.2 625.3 240.0 622.8 241.5 C620.3 243.0 615.8 244.2 614.4 244.7"/>
<path d="M585.3 180.2 C586.9 180.9 591.4 182.3 594.7 184.4 C598.0 186.4 601.9 189.5 605.0 192.8 C608.1 196.1 611.1 200.0 613.4 204.0 C615.8 208.1 617.8 212.9 619.0 217.1 C620.3 221.4 620.8 225.9 620.9 229.3 C621.1 232.8 620.4 235.9 620.0 237.8 C619.5 239.6 618.4 240.1 618.1 240.6"/>
<path d="M593.7 190.0 L596.5 192.8 L598.4 191.8 L600.3 196.5 L603.1 196.5 L605.0 201.2 L607.8 202.2 L608.7 206.8 L611.5 208.7 L611.5 213.4 L614.4 216.2 L614.0 220.9 L616.2 223.7 L615.9 228.4 L617.2 232.1 L615.3 235.9"/>
<path d="M575.9 191.8 C575.5 193.4 573.7 197.8 573.5 201.2 C573.3 204.7 574.0 208.7 575.0 212.5 C576.0 216.2 577.8 220.3 579.7 223.7 C581.6 227.1 584.1 230.6 586.2 233.1 C588.4 235.6 591.7 237.8 592.8 238.7"/>
<path d="M577.8 195.0 L588.1 191.8" stroke-width="5.0" stroke="#111"/>
<path d="M577.8 195.0 L588.1 191.8" stroke-width="2.6" stroke="#fff"/>
<path d="M576.5 202.2 L592.8 196.0" stroke-width="5.0" stroke="#111"/>
<path d="M576.5 202.2 L592.8 196.0" stroke-width="2.6" stroke="#fff"/>
<path d="M576.5 208.7 L595.6 202.2" stroke-width="5.0" stroke="#111"/>
<path d="M576.5 208.7 L595.6 202.2" stroke-width="2.6" stroke="#fff"/>
<path d="M578.2 215.3 L599.4 207.8" stroke-width="5.0" stroke="#111"/>
<path d="M578.2 215.3 L599.4 207.8" stroke-width="2.6" stroke="#fff"/>
<path d="M580.6 221.8 L602.2 214.3" stroke-width="5.0" stroke="#111"/>
<path d="M580.6 221.8 L602.2 214.3" stroke-width="2.6" stroke="#fff"/>
<path d="M583.8 227.5 L605.0 220.3" stroke-width="5.0" stroke="#111"/>
<path d="M583.8 227.5 L605.0 220.3" stroke-width="2.6" stroke="#fff"/>
<path d="M588.1 233.1 L608.7 226.0" stroke-width="5.0" stroke="#111"/>
<path d="M588.1 233.1 L608.7 226.0" stroke-width="2.6" stroke="#fff"/>
<path d="M593.4 238.0 L611.5 231.6" stroke-width="5.0" stroke="#111"/>
<path d="M593.4 238.0 L611.5 231.6" stroke-width="2.6" stroke="#fff"/>
<path d="M577.8 190.3 L579.3 188.5 L581.0 190.9 L582.9 188.1 L584.7 190.3 L586.2 188.5"/>
<path d="M598.4 238.7 L600.3 236.8 L602.2 240.6 L604.4 236.8 L606.3 241.0 L608.4 236.5 L610.2 240.2 L612.5 235.3"/>
<path d="M562.8 235.0 L600.3 214.3"/>
<path d="M635.0 155.3 L632.2 160.0 L629.3 160.9 L630.3 165.6 L626.5 167.5 L628.4 172.2 L625.6 175.0 L628.4 178.7 L626.5 182.5 L630.3 185.3 L629.3 190.0 L633.1 191.8 L634.0 196.5 L637.8 198.4 L638.7 202.2 L642.5 204.0 L643.4 206.8 L647.1 209.7"/>
<path d="M635.0 155.3 C635.9 154.4 638.4 150.9 640.6 149.7 C642.8 148.4 645.3 147.8 648.1 147.8 C650.9 147.8 654.3 148.6 657.5 149.7 C660.6 150.8 663.7 152.0 666.8 154.4 C670.0 156.7 674.6 162.2 676.2 163.7"/>
<path d="M661.2 152.5 C663.1 154.1 669.3 158.4 672.4 161.9 C675.6 165.3 678.2 169.4 679.9 173.1 C681.7 176.9 682.4 180.6 682.8 184.4 C683.1 188.1 682.9 192.2 681.8 195.6 C680.7 199.0 678.4 202.5 676.2 205.0 C674.0 207.5 670.9 209.3 668.7 210.6 C666.5 211.8 664.0 212.2 663.1 212.5"/>
<path d="M681.8 174.0 C682.1 175.8 683.5 181.4 683.7 184.4 C683.9 187.3 682.9 190.6 682.8 191.8"/>
<path d="M636.8 155.3 C637.2 154.1 641.1 153.0 642.5 153.4 C643.9 153.9 645.6 156.9 645.3 158.1 C645.0 159.4 642.0 161.4 640.6 160.9 C639.2 160.5 636.5 156.6 636.8 155.3 Z"/>
<path d="M644.3 154.4 C644.8 153.3 648.7 154.2 650.0 155.3 C651.2 156.4 652.3 159.8 651.8 160.9 C651.4 162.0 648.4 163.0 647.1 161.9 C645.9 160.8 643.9 155.5 644.3 154.4 Z"/>
<path d="M651.8 158.1 C652.5 157.2 656.4 158.7 657.5 160.0 C658.5 161.2 659.0 164.7 658.4 165.6 C657.8 166.5 654.8 166.9 653.7 165.6 C652.6 164.4 651.2 159.0 651.8 158.1 Z"/>
<path d="M657.5 163.7 C658.1 163.0 662.1 165.1 663.1 166.5 C664.0 168.0 663.7 171.4 663.1 172.2 C662.5 172.9 660.3 172.6 659.3 171.2 C658.4 169.8 656.8 164.5 657.5 163.7 Z"/>
<path d="M662.1 170.3 C662.9 169.7 666.8 172.5 667.8 174.0 C668.7 175.6 668.5 179.0 667.8 179.7 C667.0 180.3 664.0 179.4 663.1 177.8 C662.1 176.2 661.4 170.9 662.1 170.3 Z"/>
<path d="M665.0 177.8 C665.7 177.2 669.6 180.1 670.6 181.5 C671.5 182.9 671.4 185.6 670.6 186.2 C669.8 186.8 666.8 186.7 665.9 185.3 C665.0 183.9 664.2 178.4 665.0 177.8 Z"/>
<path d="M666.8 185.3 C667.6 184.5 671.5 186.7 672.4 188.1 C673.4 189.5 673.2 192.9 672.4 193.7 C671.7 194.5 668.7 194.2 667.8 192.8 C666.8 191.4 666.0 186.1 666.8 185.3 Z"/>
<path d="M667.8 192.8 C668.7 192.2 672.6 194.2 673.4 195.6 C674.2 197.0 673.4 200.6 672.4 201.2 C671.5 201.8 668.5 200.7 667.8 199.3 C667.0 197.9 666.8 193.4 667.8 192.8 Z"/>
<path d="M666.8 199.3 C667.9 199.0 671.8 201.8 672.4 203.1 C673.1 204.3 671.7 206.5 670.6 206.8 C669.5 207.2 666.5 206.2 665.9 205.0 C665.3 203.7 665.7 199.7 666.8 199.3 Z"/>
<path d="M665.0 205.0 C666.0 204.7 669.3 206.7 669.6 207.8 C670.0 208.9 667.9 211.2 666.8 211.5 C665.7 211.8 663.4 210.7 663.1 209.7 C662.8 208.6 663.9 205.3 665.0 205.0 Z"/>
<path d="M637.8 192.8 C637.3 191.7 635.6 188.6 635.0 186.2 C634.3 183.9 633.9 181.4 634.0 178.7 C634.2 176.1 634.8 172.2 635.9 170.3 C637.0 168.4 638.6 167.8 640.6 167.5 C642.6 167.2 645.6 167.2 648.1 168.4 C650.6 169.7 653.6 172.3 655.6 175.0 C657.6 177.6 659.2 181.2 660.3 184.4 C661.4 187.5 662.3 191.2 662.1 193.7 C662.0 196.2 661.0 197.9 659.3 199.3 C657.6 200.7 654.3 202.2 651.8 202.2 C649.3 202.2 645.6 199.8 644.3 199.3"/>
<path d="M637.8 172.2 C637.6 173.6 636.7 177.6 636.8 180.6 C637.0 183.6 638.4 188.4 638.7 190.0"/>
<path d="M640.6 175.9 C641.2 173.9 643.4 173.7 645.3 174.0 C647.1 174.4 650.1 175.8 651.8 177.8 C653.6 179.8 655.0 183.6 655.6 186.2 C656.2 188.9 656.2 192.0 655.6 193.7 C655.0 195.4 653.4 196.5 651.8 196.5 C650.3 196.5 647.9 195.4 646.2 193.7 C644.5 192.0 642.5 189.2 641.5 186.2 C640.6 183.3 640.0 177.9 640.6 175.9 Z" stroke-width="1.6"/>
<path d="M640.6 178.7 L648.1 175.9"/>
<path d="M641.5 183.4 L650.9 179.7"/>
<path d="M643.4 188.1 L653.7 184.4"/>
<path d="M646.2 192.8 L654.6 189.0"/>
<path d="M653.7 211.5 L655.6 209.7 L656.5 211.5 L658.4 209.7 L659.3 211.5 L661.2 209.7 L662.1 211.5 L664.0 209.7"/>
<path d="M630.3 195.6 L642.5 188.1"/>
<path d="M660.3 190.9 L662.1 190.9 L662.1 196.5 L660.3 196.5"/>
<path d="M317.3 538.6 L317.3 543.4"/>
<path d="M322.5 545.5 L326.5 545.5"/>
<path d="M355.7 526.5 L364.4 526.1 L370.5 533.1 L373.9 540.9 L374.4 549.6 L372.2 555.7 L367.4 563.5 L361.8 565.2 L356.5 564.8"/>
<path d="M355.7 526.5 C355.0 527.3 352.8 529.5 351.8 531.3 C350.7 533.1 349.8 535.1 349.1 537.4 C348.5 539.7 347.8 542.8 347.8 545.2 C347.8 547.7 348.4 549.9 349.1 552.2 C349.9 554.5 351.0 557.1 352.2 559.2 C353.4 561.3 355.8 563.9 356.5 564.8"/>
<path d="M355.7 528.7 C356.3 529.3 358.5 530.9 359.6 532.2 C360.7 533.5 361.7 534.8 362.2 536.5 C362.7 538.3 362.6 541.6 362.6 542.6"/>
<path d="M352.2 537.8 L353.5 540.0 L353.5 547.8 L362.6 548.3"/>
<path d="M357.9 545.7 L360.9 545.2 L365.2 545.7 L379.2 545.2"/>
<path d="M348.7 527.8 C348.2 528.7 346.5 531.3 345.7 533.1 C344.9 534.8 344.2 537.4 343.9 538.3"/>
<path d="M343.9 545.2 C344.1 546.2 344.1 549.1 344.8 551.3 C345.5 553.5 346.6 556.1 347.8 558.3 C349.1 560.5 351.5 563.4 352.2 564.4"/>
<path d="M340.9 537.4 C341.0 538.7 341.4 542.8 341.8 545.2 C342.1 547.7 342.3 549.9 343.1 552.2 C343.8 554.5 344.9 557.1 346.1 559.2 C347.3 561.3 349.4 563.9 350.0 564.8"/>
<path d="M335.7 545.2 C335.7 546.4 335.6 550.0 336.1 552.2 C336.6 554.4 337.5 556.2 338.7 558.3 C339.9 560.4 342.3 563.7 343.1 564.8"/>
<path d="M330.4 546.1 C330.7 547.0 331.0 549.3 331.7 551.3 C332.5 553.4 333.5 556.1 334.8 558.3 C336.1 560.5 338.6 563.2 339.6 564.4 C340.6 565.5 340.7 565.1 340.9 565.2"/>
<path d="M340.9 565.2 L356.5 564.8"/>
<path d="M336.1 528.7 C336.9 528.4 339.4 527.4 340.9 527.0 C342.4 526.5 343.7 526.2 345.2 526.1 C346.8 526.0 348.3 526.2 350.0 526.3 C351.8 526.3 354.7 526.5 355.7 526.5"/>
<path d="M336.1 528.7 L336.1 531.7"/>
<path d="M340.4 530.9 C340.8 530.4 341.8 529.0 342.6 528.3 C343.4 527.5 344.8 526.8 345.2 526.5"/>
<path d="M346.1 531.3 C346.5 530.8 347.6 529.1 348.3 528.3 C348.9 527.5 349.7 526.8 350.0 526.5"/>
<path d="M326.1 535.7 C326.5 535.1 326.6 532.8 328.3 532.2 C329.9 531.5 333.8 531.6 336.1 531.7 C338.4 531.9 340.9 532.4 342.2 533.1 C343.5 533.7 343.6 534.8 343.9 535.7 C344.3 536.5 344.3 537.8 344.4 538.3"/>
<path d="M326.1 535.7 C326.3 536.2 326.7 537.8 327.4 539.1 C328.1 540.4 329.5 542.5 330.4 543.5 C331.4 544.5 332.6 544.9 333.1 545.2"/>
<path d="M328.3 538.7 L331.3 536.5 L333.1 538.7 L333.5 543.9 L330.4 544.4 Z"/>
<path d="M336.1 544.4 L336.1 536.1 L341.3 536.1 L341.3 538.3"/>
<path d="M333.5 543.9 L336.1 544.4"/>
<path d="M343.9 538.3 L347.0 541.8 L347.0 545.2 L343.9 545.2"/>
<path d="M350.5 565.2 L354.8 572.6 L360.9 572.6"/>
<path d="M355.7 565.2 L360.9 572.2 L367.9 572.6"/>
<path d="M343.4 570.7 L343.4 593.2"/>
<path d="M401.2 527.0 C400.4 527.0 399.1 526.7 396.4 527.3 C393.7 527.9 387.8 528.9 385.1 530.5 C382.5 532.1 381.3 534.5 380.3 536.9 C379.4 539.4 379.4 542.8 379.5 545.5 C379.7 548.1 379.9 550.5 381.1 553.0 C382.3 555.5 384.2 558.5 386.7 560.2 C389.3 562.0 394.0 562.9 396.4 563.5 C398.8 564.0 400.4 563.3 401.2 563.3"/>
<path d="M400.0 528.1 C402.2 527.8 408.4 526.1 413.1 526.2 C417.8 526.4 423.1 527.6 428.1 529.0 C433.1 530.5 438.4 532.5 443.1 534.7 C447.8 536.9 452.6 540.1 456.2 542.2 C459.8 544.2 462.3 545.6 464.7 546.9 C467.0 548.1 469.3 549.2 470.3 549.7"/>
<path d="M400.0 564.7 C401.9 564.3 408.1 563.1 411.2 562.8 C414.4 562.5 416.2 562.5 418.7 562.8 C421.2 563.1 423.1 563.3 426.2 564.7 C429.4 566.1 433.7 569.0 437.5 571.2 C441.2 573.4 446.9 576.7 448.7 577.8"/>
<path d="M448.7 577.8 C447.6 576.2 445.9 572.9 445.9 569.3 C445.9 565.8 447.0 559.8 448.7 556.2 C450.4 552.6 453.6 549.4 456.2 547.8 C458.9 546.2 462.3 546.5 464.7 546.9 C467.0 547.2 469.2 547.8 470.3 549.7 C471.4 551.5 471.7 554.8 471.2 558.1 C470.7 561.4 469.3 566.2 467.5 569.3 C465.6 572.5 462.5 575.3 460.0 576.8 C457.5 578.4 454.4 578.6 452.5 578.7 C450.6 578.9 449.8 579.3 448.7 577.8 Z"/>
<path d="M450.6 573.1 C450.4 571.5 449.0 566.8 449.7 563.7 C450.3 560.6 452.3 556.5 454.4 554.4 C456.4 552.2 460.0 551.2 461.8 550.6 C463.7 550.0 465.0 550.6 465.6 550.6"/>
<path d="M443.1 534.7 C441.2 535.6 434.5 538.0 431.9 540.3 C429.2 542.6 428.3 545.8 427.2 548.7 C426.1 551.7 425.5 555.4 425.3 558.1 C425.1 560.8 426.1 563.6 426.2 564.7"/>
<path d="M417.4 567.5 L417.4 590.0"/>
<path d="M458.1 563.7 L475.0 572.2"/>
<path d="M477.2 566.3 C477.6 565.4 477.8 561.5 479.8 561.1 C481.8 560.7 486.8 563.3 489.4 563.7 C492.0 564.1 493.4 563.1 495.5 563.7 C497.5 564.3 499.4 566.0 501.5 567.2 C503.7 568.3 506.7 569.6 508.5 570.7 C510.3 571.7 511.8 572.8 512.4 573.3"/>
<path d="M477.2 566.3 C477.3 567.2 477.4 570.3 478.1 571.5 C478.7 572.8 480.2 573.9 481.1 573.7 C482.0 573.6 482.8 571.8 483.3 570.7 C483.7 569.6 483.9 568.0 483.7 567.2 C483.6 566.4 482.6 566.1 482.4 565.9"/>
<path d="M478.1 568.1 C478.6 567.9 480.4 567.0 481.1 567.2 C481.8 567.3 482.2 568.6 482.4 568.9"/>
<path d="M489.4 563.7 C489.8 564.1 491.1 565.2 492.0 566.3 C492.8 567.5 494.0 569.1 494.6 570.7 C495.2 572.3 495.3 575.0 495.5 575.9"/>
<path d="M493.7 566.3 L501.5 569.8"/>
<path d="M483.7 576.8 C484.2 576.0 485.9 573.5 486.8 572.4 C487.6 571.3 488.2 570.4 488.9 570.2 C489.7 570.0 490.7 570.3 491.1 571.1 C491.5 571.9 491.5 574.4 491.5 575.0"/>
<path d="M491.1 576.8 C491.5 576.0 492.2 575.0 492.8 575.0 C493.5 575.0 494.6 575.9 495.0 576.8 C495.5 577.6 496.0 579.5 495.5 580.2 C494.9 581.0 492.8 581.2 492.0 581.1 C491.2 581.0 490.8 580.1 490.7 579.4 C490.5 578.6 490.7 577.5 491.1 576.8 Z"/>
<path d="M478.1 572.4 C477.5 573.4 475.4 576.3 474.6 578.5 C473.7 580.7 473.0 583.1 472.8 585.5 C472.7 587.8 472.8 590.4 473.7 592.4 C474.6 594.4 476.5 596.0 478.1 597.6 C479.6 599.3 482.4 601.6 483.3 602.4"/>
<path d="M482.0 575.9 C481.5 577.0 479.5 580.5 478.9 582.8 C478.3 585.2 478.5 587.5 478.5 589.8 C478.5 592.1 478.8 595.6 478.9 596.8"/>
<path d="M488.5 581.1 C488.0 582.3 486.2 585.7 485.4 588.1 C484.7 590.4 484.3 592.7 484.1 595.0 C484.0 597.3 484.5 600.8 484.6 602.0"/>
<path d="M494.6 581.1 C494.1 582.3 492.3 585.6 491.5 588.1 C490.8 590.5 490.4 593.0 490.2 595.9 C490.1 598.8 490.6 603.9 490.7 605.5"/>
<path d="M496.3 575.9 C497.1 575.6 498.6 574.9 500.7 574.1 C502.7 573.4 506.3 571.5 508.5 571.5 C510.7 571.5 512.4 572.7 513.7 574.1 C515.0 575.6 515.8 578.2 516.3 580.2 C516.8 582.3 517.0 584.1 516.8 586.3 C516.6 588.5 515.3 592.1 515.0 593.3"/>
<path d="M510.2 599.4 C509.5 600.4 507.6 604.1 505.9 605.5 C504.2 606.8 501.7 607.4 499.8 607.6 C497.9 607.9 496.0 607.7 494.6 607.2 C493.1 606.7 491.7 605.0 491.1 604.6"/>
<path d="M511.1 572.4 C511.1 573.9 511.4 578.3 511.1 581.1 C510.8 583.9 509.7 587.6 509.4 588.9"/>
<path d="M496.3 575.9 C496.9 576.5 499.4 577.9 499.8 579.4 C500.2 580.8 499.1 583.0 498.5 584.6 C497.9 586.2 496.7 588.2 496.3 588.9"/>
<path d="M496.3 588.9 L505.0 594.2"/>
<path d="M500.2 588.5 L519.8 599.4"/>
<path d="M483.3 602.4 L483.3 608.9 L489.8 612.0 L494.6 615.0"/>
<path d="M490.7 605.5 L490.2 611.6"/>
<path d="M483.3 602.4 L490.7 605.5"/>
<path d="M487.5 616.2 L487.5 637.8"/>
<path d="M571.0 503.3 C572.1 502.2 574.5 498.4 577.5 496.9 C580.4 495.3 586.8 494.6 588.7 494.1"/>
<path d="M566.2 512.9 C566.0 514.1 564.5 517.3 564.6 520.2 C564.8 523.0 566.0 527.4 567.0 529.8 C568.1 532.2 569.0 532.9 571.0 534.6 C573.1 536.4 575.9 538.6 579.1 540.2 C582.3 541.8 586.6 543.6 590.3 544.3 C594.1 544.9 599.7 544.3 601.6 544.3"/>
<path d="M575.1 523.4 C576.8 522.4 582.4 519.9 585.5 517.8 C588.6 515.6 590.9 512.8 593.5 510.5 C596.2 508.2 599.4 505.6 601.6 504.1 C603.7 502.6 604.8 502.4 606.4 501.7 C608.0 501.0 610.4 500.3 611.2 500.1"/>
<path d="M597.6 499.3 L602.4 502.5"/>
<path d="M611.2 500.1 C613.1 500.5 619.3 501.6 622.4 502.5 C625.6 503.4 628.7 505.2 630.0 505.7"/>
<path d="M603.2 508.9 L612.8 524.2 L616.0 522.6 L615.2 519.4"/>
<path d="M606.4 506.5 L622.4 520.2"/>
<path d="M610.4 502.5 L627.3 512.9"/>
<path d="M616.0 501.7 L630.0 508.9"/>
<path d="M593.5 533.0 L603.2 529.0"/>
<path d="M593.5 533.0 C593.0 534.1 590.9 537.7 590.3 539.4 C589.8 541.2 590.3 542.8 590.3 543.5"/>
<path d="M579.1 540.2 L578.3 555.5"/>
<path d="M581.5 541.8 L581.5 557.1 L600.0 546.7"/>
<path d="M578.3 555.5 L571.0 558.7 L567.8 559.5"/>
<path d="M571.0 558.7 C572.1 559.3 575.7 560.5 577.5 561.9 C579.2 563.4 581.0 565.4 581.5 567.6 C582.0 569.7 580.8 573.6 580.7 574.8"/>
<path d="M573.5 568.4 C574.0 569.0 575.7 572.2 576.7 572.4 C577.6 572.5 578.8 570.4 579.1 569.2 C579.3 568.0 578.4 565.8 578.3 565.1"/>
<path d="M567.8 570.0 C568.5 571.0 569.7 574.6 571.8 576.4 C574.0 578.1 579.2 579.7 580.7 580.4"/>
<path d="M586.3 574.0 C587.8 572.8 593.1 568.8 595.1 566.7 C597.1 564.7 597.8 563.3 598.4 561.9 C598.9 560.6 598.4 559.3 598.4 558.7"/>
<path d="M615.2 531.4 L630.0 523.4"/>
<path d="M609.6 536.2 L615.2 535.4 L622.4 543.5 L630.0 540.2"/>
<path d="M622.4 545.9 L630.0 547.5"/>
<path d="M612.8 539.4 C612.9 538.6 614.6 538.2 615.2 538.6 C615.9 539.0 617.0 541.0 616.8 541.8 C616.7 542.7 615.1 543.9 614.4 543.5 C613.7 543.1 612.7 540.2 612.8 539.4 Z"/>
<path d="M609.6 536.2 C609.5 537.6 608.7 541.8 608.8 544.3 C608.9 546.7 610.5 548.8 610.4 550.7 C610.3 552.6 608.3 553.4 608.0 555.5 C607.7 557.6 608.1 561.5 608.8 563.5 C609.5 565.5 611.2 568.1 612.0 567.6 C612.8 567.0 613.2 563.4 613.6 560.3 C614.0 557.2 614.3 551.0 614.4 549.1"/>
<path d="M616.8 569.2 C617.5 568.5 619.4 567.7 620.8 565.1 C622.3 562.6 624.3 556.3 625.7 553.9 C627.0 551.5 628.3 551.2 628.9 550.7"/>
<path d="M541.3 592.4 C541.7 591.5 542.4 588.2 543.7 586.8 C545.1 585.5 547.8 584.3 549.4 584.4 C551.0 584.6 552.8 586.4 553.4 587.6 C553.9 588.8 554.3 590.3 552.6 591.6 C550.8 593.0 544.5 595.0 542.9 595.7"/>
<path d="M555.0 589.2 L570.2 581.2"/>
<path d="M558.2 595.7 L577.5 585.2"/>
<path d="M579.1 586.8 L586.3 591.0"/>
<path d="M627.0 504.9 L634.2 508.9"/>
<path d="M643.1 513.7 L660.7 524.2"/>
<path d="M634.2 519.4 L659.1 532.2"/>
<path d="M627.0 545.9 L639.9 541.0 L640.7 537.0 L645.5 533.0 L637.4 523.4 L629.4 531.4 L630.2 537.8 L639.0 541.8"/>
<path d="M629.4 531.4 L639.9 536.2 L640.7 537.0"/>
<path d="M637.4 523.4 L643.1 528.2"/>
<path d="M640.7 537.0 C641.7 536.4 644.7 532.7 647.1 533.0 C649.5 533.3 653.6 537.2 655.1 538.6 C656.6 540.1 656.2 540.1 655.9 541.8 C655.6 543.6 653.9 547.9 653.5 549.1"/>
<path d="M627.0 550.7 L631.8 547.5 L635.8 549.1"/>
<path d="M631.8 550.7 C632.2 550.3 633.8 550.8 634.2 551.5 C634.6 552.2 634.6 554.3 634.2 554.7 C633.8 555.1 632.2 554.6 631.8 553.9 C631.4 553.2 631.4 551.1 631.8 550.7 Z"/>
<path d="M627.0 552.3 L634.2 561.1 L634.2 570.0"/>
<path d="M638.2 558.7 L638.2 578.0"/>
<path d="M647.9 558.7 L645.5 578.0"/>
<path d="M655.9 549.1 C656.5 550.4 658.1 554.0 659.1 557.1 C660.2 560.2 661.8 565.8 662.3 567.6"/>
<path d="M660.7 536.2 C661.7 537.6 664.9 541.6 666.4 544.3 C667.8 546.9 669.0 551.0 669.6 552.3"/>
<path d="M667.2 537.8 C668.0 539.4 670.6 544.4 672.0 547.5 C673.3 550.5 674.7 554.8 675.2 556.3"/>
<path d="M669.6 530.6 C670.8 531.5 674.5 533.7 676.8 536.2 C679.1 538.8 682.2 544.3 683.2 545.9"/>
<path d="M687.2 554.7 L696.9 571.6"/>
<path d="M672.8 563.5 C673.3 565.1 674.9 570.0 676.0 573.2 C677.1 576.4 678.7 581.2 679.2 582.8"/>
<path d="M678.4 566.7 C678.9 568.4 680.7 573.6 681.6 576.4 C682.6 579.2 683.6 582.4 684.0 583.6"/>
<path d="M667.2 578.0 C667.7 579.6 669.3 584.7 670.4 587.6 C671.4 590.6 673.1 594.3 673.6 595.7"/>
<path d="M684.0 583.6 C684.6 582.7 685.8 579.5 687.2 578.0 C688.7 576.5 690.6 574.9 692.9 574.8 C695.1 574.6 699.6 576.8 700.9 577.2"/>
<path d="M684.0 583.6 C684.3 584.6 685.8 587.5 685.6 589.2 C685.5 591.0 683.6 593.3 683.2 594.1"/>
<path d="M692.1 580.4 L705.7 586.8"/>
<path d="M704.1 592.4 C704.5 590.8 704.6 589.0 705.7 587.6 C706.8 586.3 709.1 584.6 710.5 584.4 C712.0 584.3 713.9 585.5 714.6 586.8 C715.2 588.2 715.1 590.6 714.6 592.4 C714.0 594.3 712.7 596.9 711.3 598.1 C710.0 599.3 707.9 599.8 706.5 599.7 C705.2 599.5 703.7 598.5 703.3 597.3 C702.9 596.1 703.7 594.1 704.1 592.4 Z" stroke-width="1.6"/>
<path d="M706.5 591.6 C707.1 590.4 708.8 588.6 709.7 588.4 C710.7 588.3 712.1 589.6 712.1 590.8 C712.1 592.0 710.7 594.9 709.7 595.7 C708.8 596.5 707.1 596.3 706.5 595.7 C706.0 595.0 706.0 592.9 706.5 591.6 Z"/>
<path d="M712.9 580.4 C714.0 580.4 717.6 579.6 719.4 580.4 C721.1 581.2 722.6 583.1 723.4 585.2 C724.2 587.4 724.1 591.9 724.2 593.3"/>
<path d="M541.3 594.8 C540.1 594.4 536.6 592.3 534.1 592.4 C531.6 592.5 528.5 593.9 526.1 595.6 C523.7 597.4 521.0 600.0 519.6 602.9 C518.3 605.7 517.8 609.8 518.0 612.5 C518.3 615.2 519.9 617.4 521.2 618.9 C522.6 620.4 525.3 620.9 526.1 621.3"/>
<path d="M541.3 594.8 C540.9 595.8 540.4 599.4 538.9 600.4 C537.4 601.5 534.1 600.6 532.5 601.2 C530.9 601.9 529.8 603.3 529.3 604.5 C528.7 605.7 529.0 607.5 529.3 608.5 C529.5 609.4 530.7 609.1 530.9 610.1 C531.0 611.0 530.2 613.4 530.1 614.1"/>
<path d="M530.9 610.1 L530.9 635.8"/>
<path d="M530.1 614.1 C529.4 615.7 527.1 619.7 526.1 623.7 C525.0 627.8 524.1 635.8 523.7 638.2"/>
<path d="M523.7 638.2 C522.7 639.5 518.4 643.8 518.0 646.2 C517.6 648.6 519.4 650.9 521.2 652.7 C523.1 654.4 527.9 656.0 529.3 656.7"/>
<path d="M523.7 638.2 C524.1 639.5 525.1 643.1 526.1 646.2 C527.0 649.3 528.7 654.9 529.3 656.7"/>
<path d="M529.3 646.2 C529.4 648.4 529.5 654.3 530.1 659.1 C530.6 663.9 531.8 670.6 532.5 675.1 C533.2 679.7 533.8 684.5 534.1 686.4"/>
<path d="M529.3 680.0 C529.7 679.0 530.3 677.0 530.9 677.6 C531.4 678.1 532.6 681.8 532.5 683.2 C532.4 684.5 530.7 685.6 530.1 685.6 C529.4 685.6 528.6 684.1 528.5 683.2 C528.3 682.2 528.9 680.9 529.3 680.0 Z"/>
<path d="M530.1 685.6 C531.3 686.4 534.8 688.7 537.3 690.4 C539.9 692.1 544.0 695.1 545.3 696.0"/>
<path d="M538.9 632.6 L538.9 667.1 L539.7 691.2"/>
<path d="M539.7 641.4 L539.7 662.3" stroke-width="1.8"/>
<path d="M546.1 626.1 C545.5 627.3 543.2 630.8 542.1 633.4 C541.1 635.9 540.1 640.1 539.7 641.4"/>
<path d="M538.9 614.1 C539.5 615.3 540.0 619.3 542.1 621.3 C544.3 623.3 549.6 624.7 551.8 626.1 C553.9 627.6 554.4 629.5 555.0 630.2"/>
<path d="M538.1 620.5 C538.2 619.5 538.0 616.4 538.9 614.1 C539.9 611.8 541.6 608.9 543.7 606.9 C545.9 604.9 550.4 602.9 551.8 602.0"/>
<path d="M552.6 626.1 C553.0 624.8 553.2 620.5 555.0 618.1 C556.7 615.7 561.7 612.8 563.0 611.7"/>
<path d="M549.4 606.1 L567.8 596.4"/>
<path d="M559.8 594.8 L569.4 590.0"/>
<path d="M556.6 627.8 L565.4 619.7"/>
<path d="M571.8 610.9 L579.9 603.7 L580.7 601.2 L573.5 606.1"/>
<path d="M585.5 590.0 L598.4 597.2"/>
<path d="M607.2 603.7 C608.7 604.5 612.9 607.0 616.0 608.5 C619.1 609.9 624.1 611.8 625.7 612.5"/>
<path d="M541.3 641.4 L558.2 650.2"/>
<path d="M567.0 655.9 L584.7 665.5"/>
<path d="M593.5 671.9 L620.8 686.4"/>
<path d="M538.9 668.7 C539.9 669.9 542.0 673.7 544.5 675.9 C547.1 678.2 551.0 680.6 554.2 682.4 C557.4 684.1 562.2 685.7 563.8 686.4"/>
<path d="M572.7 691.2 L590.3 700.8"/>
<path d="M544.5 675.9 C545.1 677.1 546.1 681.2 547.8 683.2 C549.4 685.2 552.7 686.4 554.2 688.0 C555.6 689.6 556.2 692.0 556.6 692.8"/>
<path d="M551.0 696.8 C550.2 696.8 547.1 696.2 546.1 696.8 C545.2 697.5 545.5 700.2 545.3 700.8"/>
<path d="M708.9 600.4 L710.5 608.5 L714.6 605.3 L712.9 599.6"/>
<path d="M714.6 605.3 C716.0 605.4 720.8 605.1 723.4 606.1 C725.9 607.0 728.3 609.0 729.8 610.9 C731.3 612.8 732.0 615.2 732.2 617.3 C732.5 619.5 731.6 622.7 731.4 623.7"/>
<path d="M707.3 612.5 L709.7 626.1"/>
<path d="M700.9 601.2 L698.5 618.1"/>
<path d="M689.7 606.1 L688.0 612.5"/>
<path d="M687.2 618.9 L681.6 629.4"/>
<path d="M694.5 626.1 L696.9 632.6"/>
<path d="M663.9 623.7 L663.9 609.3 L669.6 606.1 L675.2 614.1 L676.0 624.5"/>
<path d="M669.6 606.1 L683.2 598.0 L687.2 598.8"/>
<path d="M666.4 614.1 C666.8 613.2 668.6 612.1 669.6 612.5 C670.5 612.9 672.0 615.3 672.0 616.5 C672.0 617.7 670.4 619.5 669.6 619.7 C668.7 620.0 667.4 619.0 666.8 618.1 C666.3 617.2 665.9 615.0 666.4 614.1 Z"/>
<path d="M668.0 631.8 L675.2 635.8 L681.6 629.4"/>
<path d="M634.2 618.9 L651.9 629.4"/>
<path d="M661.5 635.0 L679.2 645.4"/>
<path d="M683.2 645.7 L683.9 646.7" stroke-width="1.5"/>
<path d="M644.7 661.5 L661.5 650.2"/>
<path d="M666.4 659.1 L682.4 647.8"/>
<path d="M681.6 658.3 L697.7 649.4"/>
<path d="M688.0 642.2 L705.7 633.4"/>
<path d="M694.5 642.2 C697.4 641.0 707.3 636.9 712.1 635.0 C717.0 633.1 721.5 631.6 723.4 631.0"/>
<path d="M707.3 643.8 L726.6 635.8"/>
<path d="M721.8 642.2 L729.8 638.2"/>
<path d="M692.9 659.1 L710.5 650.2"/>
<path d="M694.5 660.7 L713.7 651.8"/>
<path d="M701.7 660.7 C704.2 659.9 712.8 656.4 717.0 655.9 C721.1 655.3 723.3 656.1 726.6 657.5 C729.9 658.8 735.3 662.8 737.0 663.9"/>
<path d="M678.4 672.7 L691.3 663.9"/>
<path d="M679.2 681.6 L692.1 667.1"/>
<path d="M655.1 675.1 L672.0 664.7"/>
<path d="M665.6 675.1 L680.8 665.5"/>
<path d="M646.3 674.3 L656.7 665.5"/>
<path d="M635.8 668.7 C635.7 669.8 633.8 673.3 635.0 675.1 C636.2 677.0 641.3 678.1 643.1 680.0 C644.8 681.8 645.3 683.2 645.5 686.4 C645.6 689.6 644.1 697.1 643.9 699.2"/>
<path d="M629.4 691.2 L640.7 699.2"/>
<path d="M659.1 686.4 C658.6 685.2 660.5 682.0 661.5 680.8 C662.6 679.6 664.3 679.0 665.6 679.2 C666.8 679.3 668.0 680.9 668.8 681.6 C669.6 682.2 670.5 682.4 670.4 683.2 C670.2 684.0 668.9 685.6 668.0 686.4 C667.0 687.2 666.2 688.0 664.8 688.0 C663.3 688.0 659.7 687.6 659.1 686.4 Z" stroke-width="1.6"/>
<path d="M668.8 680.8 L671.2 682.4"/>
<path d="M653.5 686.4 L652.7 700.0"/>
<path d="M659.1 688.0 L658.3 700.0"/>
<path d="M667.2 689.6 C666.8 690.7 665.3 694.3 664.8 696.0 C664.2 697.8 663.8 699.4 663.6 700.0"/>
<path d="M674.4 690.4 C673.9 691.5 671.9 695.2 671.2 696.8 C670.5 698.4 670.2 699.5 670.1 700.0"/>
<path d="M683.2 684.8 L688.8 688.8 L685.6 696.0 L679.2 693.6"/>
<path d="M685.6 696.0 L693.7 700.8"/>
<path d="M697.7 695.2 L713.7 681.6"/>
<path d="M723.4 631.0 C724.5 631.9 727.7 634.8 729.8 636.6 C732.0 638.3 734.9 639.5 736.2 641.4 C737.6 643.3 737.6 646.8 737.8 647.8"/>
<path d="M737.8 647.8 L737.8 670.3"/>
<path d="M729.8 639.0 C730.7 638.7 732.8 639.1 733.8 639.8 C734.9 640.5 735.7 641.5 736.2 643.0 C736.8 644.5 737.3 647.2 737.0 648.6 C736.8 650.1 735.6 651.6 734.6 651.8 C733.7 652.1 732.5 651.2 731.4 650.2 C730.3 649.3 728.7 647.7 728.2 646.2 C727.7 644.8 727.9 642.6 728.2 641.4 C728.5 640.2 728.9 639.3 729.8 639.0 Z" stroke-width="1.6"/>
<path d="M732.2 645.4 L735.4 646.2"/>
<path d="M730.6 668.7 C731.8 669.0 736.0 669.3 737.8 670.3 C739.7 671.4 741.1 673.0 741.9 675.1 C742.7 677.3 743.3 680.2 742.7 683.2 C742.0 686.1 738.4 689.9 737.8 692.8 C737.3 695.8 738.9 699.5 739.1 700.8"/>
<path d="M730.6 668.7 L730.6 678.4 L723.4 679.2"/>
<path d="M730.6 678.4 L733.0 681.6 L737.8 673.5"/>
<path d="M742.7 683.2 C742.5 684.8 742.7 689.6 741.9 692.8 C741.1 696.0 738.5 700.8 737.8 702.4"/>
<path d="M545.3 700.0 C545.5 700.9 545.1 703.1 546.1 705.6 C547.2 708.2 550.8 713.7 551.8 715.3"/>
<path d="M557.4 724.1 C558.9 725.8 563.4 730.7 566.2 734.5 C569.0 738.4 572.9 745.2 574.3 747.4"/>
<path d="M561.4 729.7 L561.4 752.2"/>
<path d="M575.1 750.6 L580.7 758.6 L592.7 774.7"/>
<path d="M597.6 782.7 L611.2 799.6"/>
<path d="M564.6 753.0 C564.9 751.9 567.4 751.0 568.6 751.4 C569.8 751.8 571.4 754.2 571.8 755.4 C572.2 756.6 571.8 758.2 571.0 758.6 C570.2 759.0 568.1 758.8 567.0 757.8 C566.0 756.9 564.4 754.1 564.6 753.0 Z"/>
<path d="M575.1 750.6 L574.3 761.0 L580.7 758.6"/>
<path d="M566.2 761.0 C567.0 761.4 569.7 763.5 571.0 763.5 C572.4 763.5 573.7 761.4 574.3 761.0"/>
<path d="M600.0 706.4 L617.6 716.9"/>
<path d="M626.5 722.5 L630.0 724.9"/>
<path d="M627.0 723.3 L636.6 728.9 L644.7 732.9"/>
<path d="M644.7 711.2 C644.8 714.7 645.2 725.2 645.5 732.1 C645.7 739.1 646.1 749.5 646.3 753.0"/>
<path d="M638.2 737.8 L638.2 757.8"/>
<path d="M651.9 716.1 L652.7 736.9"/>
<path d="M656.7 700.0 L657.5 708.0"/>
<path d="M655.9 716.1 L656.7 737.8"/>
<path d="M663.1 700.0 L661.5 707.2"/>
<path d="M668.8 700.0 L667.2 708.0"/>
<path d="M659.9 717.7 C660.5 719.5 661.5 725.3 663.1 728.9 C664.8 732.5 667.0 736.4 669.6 739.4 C672.1 742.3 675.6 744.6 678.4 746.6 C681.2 748.6 685.1 750.6 686.4 751.4"/>
<path d="M665.6 720.1 C665.8 721.8 666.2 727.2 667.2 730.5 C668.1 733.9 670.5 738.6 671.2 740.2"/>
<path d="M686.4 751.4 C688.0 751.1 693.1 750.5 696.1 749.8 C699.0 749.1 702.8 747.8 704.1 747.4"/>
<path d="M673.6 757.8 L686.4 751.4"/>
<path d="M704.9 745.0 L712.1 747.4"/>
<path d="M689.7 722.5 C689.9 723.7 690.2 727.4 691.3 729.7 C692.3 732.0 693.9 734.5 696.1 736.1 C698.2 737.8 701.7 739.0 704.1 739.4 C706.5 739.8 709.5 738.7 710.5 738.6"/>
<path d="M692.9 700.0 C693.0 700.7 694.1 702.0 693.7 704.0 C693.3 706.0 691.0 710.7 690.5 712.0"/>
<path d="M719.4 735.3 C719.5 736.5 720.3 740.8 720.2 742.6 C720.0 744.3 718.8 745.2 718.6 745.8"/>
<path d="M719.4 735.3 C720.6 734.3 724.6 731.1 726.6 728.9 C728.6 726.8 730.1 724.6 731.4 722.5 C732.8 720.3 734.1 717.1 734.6 716.1"/>
<path d="M727.4 728.1 L733.0 725.7"/>
<path d="M736.2 720.9 C736.8 719.7 737.7 717.3 738.6 716.9 C739.6 716.5 741.5 717.4 741.9 718.5 C742.3 719.5 741.9 722.0 741.1 723.3 C740.3 724.6 738.0 726.4 737.0 726.5 C736.1 726.6 735.6 725.0 735.4 724.1 C735.3 723.2 735.7 722.1 736.2 720.9 Z" stroke-width="1.6"/>
<path d="M737.8 700.0 C737.8 701.3 737.6 705.5 737.8 708.0 C738.1 710.6 739.2 714.1 739.4 715.3"/>
<path d="M659.9 760.2 C660.3 759.0 661.1 756.0 662.3 754.6 C663.5 753.3 665.7 752.2 667.2 752.2 C668.6 752.2 670.4 753.7 671.2 754.6 C672.0 755.6 672.5 756.8 672.0 757.8 C671.4 758.9 669.4 760.1 668.0 761.0 C666.5 762.0 664.5 763.3 663.1 763.5 C661.8 763.6 660.5 762.4 659.9 761.8 C659.4 761.3 659.5 761.4 659.9 760.2 Z" stroke-width="1.6"/>
<path d="M664.8 759.4 C665.2 759.0 666.5 756.9 667.2 757.0 C667.8 757.2 668.9 759.3 668.8 760.2 C668.6 761.2 666.8 762.2 666.4 762.7"/>
<path d="M653.5 746.6 C653.6 748.2 653.4 753.8 654.3 756.2 C655.2 758.6 658.3 760.2 659.1 761.0"/>
<path d="M658.3 748.2 L658.3 756.2"/>
<path d="M660.7 763.5 C660.9 764.7 660.7 768.3 661.5 770.7 C662.3 773.1 664.2 776.6 665.6 777.9 C666.9 779.3 668.9 778.6 669.6 778.7"/>
<path d="M663.9 773.9 L670.4 770.7"/>
<path d="M675.2 770.7 C676.5 770.1 680.7 767.6 683.2 767.5 C685.8 767.3 688.7 768.9 690.5 769.9 C692.2 770.8 693.1 772.6 693.7 773.1"/>
<path d="M675.2 770.7 C676.3 771.5 679.7 773.6 681.6 775.5 C683.5 777.4 685.2 780.2 686.4 781.9 C687.6 783.7 688.4 785.3 688.8 785.9"/>
<path d="M699.3 781.1 C699.7 782.6 701.6 787.4 701.7 790.0 C701.8 792.5 701.3 794.4 700.1 796.4 C698.9 798.4 695.4 801.1 694.5 802.0"/>
<path d="M692.1 795.6 L693.7 802.8"/>
<path d="M639.0 768.3 C639.2 769.7 639.2 774.6 639.9 777.1 C640.5 779.7 642.0 781.9 643.1 783.5 C644.1 785.1 645.7 786.2 646.3 786.7"/>
<path d="M655.1 792.4 C656.0 793.0 659.1 794.8 660.7 796.4 C662.3 798.0 663.8 799.9 664.8 802.0 C665.7 804.1 666.1 808.0 666.4 809.2"/>
<path d="M674.4 817.3 C675.9 816.5 680.3 814.3 683.2 812.4 C686.2 810.6 690.6 807.1 692.1 806.0"/>
<path d="M618.8 806.3 C620.3 807.3 624.7 810.7 627.6 812.5 C630.5 814.4 634.9 816.7 636.4 817.5"/>
<path d="M645.1 822.0 C646.6 822.3 651.2 823.7 653.9 823.8 C656.6 823.9 659.5 823.2 661.4 822.5 C663.3 821.9 664.5 820.5 665.1 820.0"/>
<path d="M657.6 820.0 L662.6 816.3"/>
<path d="M509.0 240.9 L520.0 234.5"/>
<path d="M395.2 307.4 L396.6 306.6" stroke-width="1.6"/>
<g clip-path="url(#c7)">
<path d="M405.7 81.2 L415.3 76.4 L425.0 71.6"/>
<path d="M415.3 76.4 L425.0 94.1 L443.7 85.5"/>
<path d="M424.4 82.3 C424.4 81.2 425.8 79.8 426.6 79.6 C427.4 79.5 428.9 80.4 429.3 81.2 C429.6 82.1 429.2 84.2 428.7 85.0 C428.3 85.8 427.3 86.5 426.6 86.1 C425.9 85.6 424.4 83.4 424.4 82.3 Z"/>
<path d="M396.1 86.6 L387.5 92.5 L391.2 97.8 L392.3 100.5"/>
<path d="M394.5 91.4 C394.9 91.0 395.4 89.5 397.1 88.7 C398.8 87.9 402.4 86.6 404.6 86.6 C406.9 86.6 408.7 87.8 410.5 88.7 C412.3 89.7 414.0 91.3 415.3 92.5 C416.7 93.7 418.0 95.2 418.6 95.7"/>
<path d="M403.0 98.9 L410.5 97.3 L410.5 94.1"/>
<path d="M397.1 89.3 C398.1 89.0 399.5 90.2 400.3 91.4 C401.2 92.7 402.3 95.2 402.5 96.8 C402.7 98.4 402.1 100.3 401.4 101.1 C400.7 101.9 399.2 102.1 398.2 101.6 C397.2 101.1 396.2 99.3 395.5 97.8 C394.9 96.4 394.2 94.5 394.5 93.0 C394.7 91.6 396.2 89.5 397.1 89.3 Z" stroke-width="1.6"/>
<path d="M396.1 94.1 L399.8 93.0" stroke-width="1.8"/>
<path d="M397.1 97.8 L400.9 96.2" stroke-width="1.8"/>
<path d="M415.3 101.1 C415.6 100.3 416.5 99.5 417.5 99.5 C418.5 99.5 420.3 100.1 421.2 101.1 C422.1 102.0 422.8 104.2 422.8 105.3 C422.8 106.5 422.1 107.5 421.2 108.0 C420.3 108.6 418.4 109.2 417.5 108.6 C416.6 107.9 416.2 105.5 415.9 104.3 C415.5 103.0 415.1 101.9 415.3 101.1 Z" stroke-width="1.8"/>
<path d="M416.9 102.1 L420.2 103.2 L420.7 106.4"/>
<path d="M418.6 96.2 L426.1 94.1"/>
<path d="M423.4 105.9 L441.6 97.8"/>
<path d="M441.6 94.6 L445.3 95.7"/>
<path d="M442.7 94.1 L442.7 119.8"/>
<path d="M426.6 115.0 C426.8 113.7 428.1 112.9 429.3 112.8 C430.4 112.7 432.4 113.5 433.5 114.4 C434.7 115.4 436.0 117.3 436.2 118.7 C436.5 120.2 436.0 122.1 435.2 123.0 C434.4 123.9 432.6 124.5 431.4 124.1 C430.2 123.6 429.0 121.9 428.2 120.3 C427.4 118.8 426.4 116.2 426.6 115.0 Z" stroke-width="1.8"/>
<path d="M428.7 116.6 C429.3 116.5 431.0 115.6 431.9 116.1 C432.8 116.5 434.0 118.3 434.1 119.3 C434.2 120.2 432.7 121.5 432.5 121.9"/>
<path d="M429.3 119.3 L433.5 118.2" stroke-width="1.8"/>
<path d="M404.1 112.3 L397.1 109.1 L397.1 123.5 L411.6 133.2"/>
<path d="M398.7 122.5 L407.3 117.7"/>
<path d="M399.8 124.1 L410.0 118.7"/>
<path d="M413.2 117.1 C414.8 117.8 420.6 120.2 422.8 121.4 C425.1 122.7 425.9 123.2 426.6 124.6 C427.3 126.0 427.0 129.1 427.1 130.0"/>
<path d="M390.2 110.7 C390.4 111.5 390.5 114.4 391.2 115.5 C392.0 116.7 394.1 116.3 394.5 117.7 C394.8 119.0 393.5 121.7 393.4 123.5 C393.3 125.4 393.8 128.0 393.9 128.9"/>
<path d="M397.1 132.7 L401.4 132.1 L414.3 141.2"/>
<path d="M417.5 136.4 C418.4 137.0 421.2 139.3 422.8 140.1 C424.4 141.0 426.4 141.0 427.1 141.2"/>
<path d="M394.5 139.6 L394.5 150.0"/>
<path d="M397.1 145.0 L397.1 150.0"/>
<path d="M397.1 147.1 L407.8 140.7"/>
<path d="M398.2 149.3 L411.6 142.8"/>
<path d="M423.4 146.6 L426.1 150.0"/>
<path d="M442.7 130.0 L442.7 150.0"/>
<path d="M460.0 120.3 C459.0 121.2 455.6 123.7 453.9 125.7 C452.2 127.7 450.8 129.6 449.6 132.1 C448.5 134.6 447.6 137.7 446.9 140.7 C446.3 143.7 446.0 148.4 445.9 150.0"/>
<path d="M448.5 134.3 C449.6 133.7 453.1 132.0 455.0 131.0 C456.9 130.1 459.2 128.8 460.0 128.4"/>
<path d="M449.6 143.9 C450.9 143.2 455.4 140.7 457.1 139.6 C458.8 138.5 459.5 137.8 460.0 137.5"/>
<path d="M453.9 79.6 C454.8 79.4 458.2 77.3 459.3 78.0 C460.3 78.7 460.1 82.2 460.0 83.9 C459.9 85.6 459.6 87.1 458.7 88.2 C457.9 89.3 455.6 90.0 455.0 90.3"/>
<path d="M455.0 97.8 C454.8 98.6 453.7 100.7 453.9 102.1 C454.1 103.6 455.0 105.2 456.0 106.4 C457.1 107.7 459.3 109.1 460.0 109.6"/>
<path d="M449.6 70.0 L452.8 72.1 L455.0 70.5"/>
</g>
<g clip-path="url(#c8)">
<path d="M450.0 55.7 C451.2 55.1 455.2 53.3 457.2 52.0 C459.2 50.8 460.6 50.0 462.0 48.4 C463.5 46.8 464.5 43.7 465.7 42.4 C466.9 41.1 467.9 40.7 469.3 40.6 C470.7 40.5 473.9 40.9 474.1 41.8 C474.3 42.7 472.3 44.8 470.5 46.0 C468.7 47.2 464.5 48.5 463.3 49.0"/>
<path d="M452.4 55.7 L457.2 64.1 L462.0 72.5"/>
<path d="M450.0 68.3 L452.4 65.9 L454.8 68.3 L452.4 71.3 Z"/>
<path d="M502.4 48.4 L481.3 58.1 L491.6 64.7 L496.4 65.3 L496.4 79.8"/>
<path d="M475.3 75.5 L492.2 65.9"/>
<path d="M471.1 82.8 L492.8 70.7 L493.4 79.8"/>
<path d="M483.7 74.9 L488.6 79.2"/>
<path d="M452.4 79.8 C453.3 79.5 456.5 77.3 457.8 78.0 C459.1 78.6 460.1 81.7 460.2 83.4 C460.3 85.1 459.3 87.1 458.4 88.2 C457.5 89.3 455.4 89.7 454.8 90.0"/>
<path d="M457.8 78.0 C458.7 78.4 461.6 79.9 463.3 80.4 C464.9 80.9 466.8 80.9 467.5 81.0"/>
<path d="M467.5 81.0 L468.1 88.2 L468.1 96.6"/>
<path d="M469.9 86.4 L469.9 94.8 L484.9 87.6"/>
<path d="M477.7 95.4 L495.8 87.6"/>
<path d="M496.4 79.8 C496.9 79.6 498.2 78.4 499.4 78.6 C500.6 78.8 502.3 79.4 503.6 81.0 C504.9 82.6 506.7 86.2 507.2 88.2 C507.7 90.2 507.3 91.8 506.6 93.0 C505.9 94.2 504.4 95.4 503.0 95.4 C501.6 95.4 499.0 93.4 498.2 93.0" stroke-width="1.6"/>
<path d="M497.6 82.2 C498.2 82.4 500.2 82.4 501.2 83.4 C502.2 84.4 503.3 86.7 503.6 88.2 C503.9 89.7 503.1 91.7 503.0 92.4"/>
<path d="M496.4 79.8 L496.4 88.2 L498.2 93.0"/>
<path d="M454.8 97.8 C454.6 98.6 453.2 100.8 453.6 102.7 C454.0 104.5 455.8 107.1 457.2 108.7 C458.6 110.3 460.6 111.7 462.0 112.3 C463.5 112.9 465.1 112.3 465.7 112.3"/>
<path d="M458.4 102.7 C459.0 103.2 460.2 105.6 462.0 105.7 C463.9 105.8 468.0 104.0 469.3 103.3 C470.6 102.6 469.8 101.7 469.9 101.4"/>
<path d="M462.0 112.3 C466.1 110.7 480.5 105.7 486.1 102.7 C491.8 99.6 494.2 95.6 495.8 94.2"/>
<path d="M469.9 106.9 C472.6 105.6 482.0 101.3 486.1 99.0 C490.3 96.7 493.2 94.0 494.6 93.0"/>
<path d="M477.7 95.4 L478.3 103.9 L477.1 117.1"/>
<path d="M450.0 124.3 L462.0 114.7 L469.3 117.1 L456.0 124.3"/>
<path d="M457.2 130.0 L465.7 125.5"/>
<path d="M477.1 117.1 L477.1 119.5 L475.9 124.3 L477.7 130.0" stroke-width="1.8"/>
<path d="M485.5 103.3 L503.0 115.9"/>
<path d="M481.9 111.1 L499.4 120.1"/>
<path d="M478.9 124.3 L489.8 130.0"/>
<path d="M498.2 93.0 L517.5 102.7 L519.9 108.7 L519.9 124.3"/>
<path d="M509.0 94.8 L517.5 99.6"/>
<path d="M510.2 112.3 L510.2 124.3 L517.5 126.7 L517.5 130.0"/>
<path d="M510.2 121.9 L517.5 124.3"/>
<path d="M523.7 43.6 L523.7 99.0" stroke-width="1.6"/>
<path d="M523.7 105.1 L523.7 130.0"/>
<path d="M519.9 58.1 L519.9 72.5"/>
<path d="M504.2 50.2 L515.7 56.3 L519.9 58.1"/>
<path d="M509.0 44.8 L515.7 41.8"/>
<path d="M511.4 47.2 L518.7 52.0"/>
<path d="M515.7 56.3 L516.9 53.3"/>
<path d="M523.7 63.5 C524.7 63.7 527.8 63.6 529.5 64.7 C531.3 65.8 533.3 68.4 534.3 70.1 C535.3 71.8 535.9 73.2 535.5 74.9 C535.1 76.6 533.9 79.0 531.9 80.4 C530.0 81.8 525.1 82.9 523.7 83.4"/>
<path d="M535.5 74.9 L540.0 77.3"/>
<path d="M528.3 82.2 L540.0 90.6"/>
<path d="M528.3 40.0 C528.9 41.2 530.9 45.0 531.9 47.2 C532.9 49.4 533.9 52.2 534.3 53.3"/>
<path d="M533.1 40.0 L536.7 49.6"/>
<path d="M523.7 105.1 L527.1 102.7 L540.0 112.3 L533.1 117.1 L523.7 123.1"/>
<path d="M523.7 126.7 L540.0 118.3"/>
</g>
<path d="M581.0 112.4 C581.8 110.9 583.5 109.5 585.1 109.1 C586.8 108.7 589.8 108.8 590.9 109.9 C592.0 111.0 592.3 113.6 591.7 115.7 C591.2 117.8 589.3 121.1 587.6 122.3 C585.9 123.6 583.1 123.8 581.8 123.1 C580.6 122.5 580.3 120.0 580.2 118.2 C580.0 116.4 580.2 113.9 581.0 112.4 Z" stroke-width="1.6"/>
<path d="M583.5 114.0 C584.2 112.9 586.5 112.1 587.6 112.4 C588.7 112.7 590.2 114.5 590.1 115.7 C589.9 116.9 587.9 119.3 586.8 119.8 C585.7 120.4 584.0 120.0 583.5 119.0 C582.9 118.0 582.8 115.2 583.5 114.0 Z"/>
<path d="M559.5 125.6 L581.0 114.0"/>
<path d="M581.0 71.1 L566.1 95.9"/>
<path d="M563.6 105.8 L555.4 125.6"/>
<path d="M572.7 97.5 L582.6 107.4"/>
<path d="M592.2 89.3 L592.2 107.4"/>
</g>
<g opacity="0.999">
<text x="172.3" y="301.0" font-size="22" transform="translate(172.3 0) scale(0.83 1) translate(-172.3 0)">1</text>
<text x="153.0" y="362.0" font-size="22" transform="translate(153.0 0) scale(0.83 1) translate(-153.0 0)">2</text>
<text x="111.5" y="421.1" font-size="22" transform="translate(111.5 0) scale(0.83 1) translate(-111.5 0)">3</text>
<text x="66.4" y="431.1" font-size="22" transform="translate(66.4 0) scale(0.83 1) translate(-66.4 0)">4</text>
<text x="31.5" y="452.0" font-size="22" transform="translate(31.5 0) scale(0.83 1) translate(-31.5 0)">5</text>
<text x="704.6" y="903.0" font-size="23" transform="translate(704.6 0) scale(0.83 1) translate(-704.6 0)">50137</text>
<text x="245.0" y="299.6" font-size="22" transform="translate(245.0 0) scale(0.83 1) translate(-245.0 0)">8</text>
<text x="345.7" y="270.3" font-size="22" transform="translate(345.7 0) scale(0.83 1) translate(-345.7 0)">6</text>
<text x="416.7" y="391.2" font-size="22" transform="translate(416.7 0) scale(0.83 1) translate(-416.7 0)">7</text>
<text x="606.8" y="287.2" font-size="22" transform="translate(606.8 0) scale(0.83 1) translate(-606.8 0)">9</text>
<text x="342.6" y="611.6" font-size="22" transform="translate(342.6 0) scale(0.83 1) translate(-342.6 0)">10</text>
<text x="415.4" y="609.6" font-size="22" transform="translate(415.4 0) scale(0.83 1) translate(-415.4 0)">11</text>
<text x="487.5" y="657.2" font-size="22" transform="translate(487.5 0) scale(0.83 1) translate(-487.5 0)">10</text>
</g>
</svg>
</body></html>
